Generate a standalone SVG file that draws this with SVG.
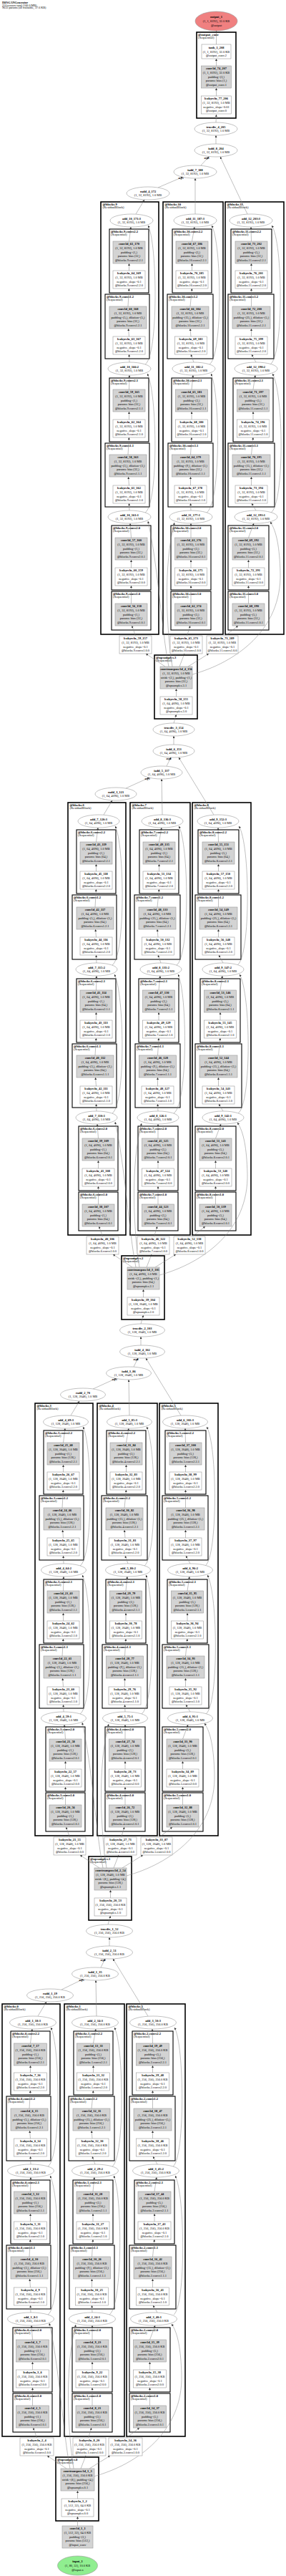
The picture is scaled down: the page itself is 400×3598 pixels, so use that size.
<svg xmlns="http://www.w3.org/2000/svg" width="400" height="3598" viewBox="0 0 400 3598">
<style>
text{font-family:"Liberation Serif","Times New Roman",serif;font-size:4.4px;text-anchor:middle;fill:#000}
.b{font-weight:bold}
.g{fill:#d3d3d3;stroke:#999;stroke-width:.6}
.w{fill:#fff;stroke:#999;stroke-width:.6}
.R{fill:none;stroke:#000;stroke-width:1.6}
.S{fill:none;stroke:#000;stroke-width:1.1}
.L{text-anchor:start;font-size:4.6px}
.h{text-anchor:start;font-size:4.2px}
.e path{fill:none;stroke:#808080;stroke-width:.5;marker-end:url(#ah)}
.al{font-size:3.2px;font-weight:bold}
</style>
<defs><marker id="ah" viewBox="0 0 10 10" refX="10" refY="5" markerWidth="3" markerHeight="3" orient="auto" markerUnits="userSpaceOnUse"><path d="M0,0L10,5L0,10z" fill="#333"/></marker></defs>
<rect width="400" height="3598" fill="#fff"/>
<g id="header"><text class="h" x="3" y="5.2"><tspan class="b">HiFiGANGenerator</tspan><tspan x="3" dy="3.5">210 tensors total (166.0 MB)</tspan><tspan x="3" dy="3.5">9633 params (all trainable, 37.6 KB)</tspan></text></g>

<!-- OUTPUT SECTION -->
<g id="clusters-out"><rect class="R" x="275" y="45" width="55" height="120"/><text class="L" x="277" y="49.8"><tspan class="b">@output_conv</tspan><tspan x="277" dy="4.3">(Sequential)</tspan></text></g>
<g id="connectors-out" class="e"><path d="M302,171L302.5,160"/><path d="M302.5,134V123"/><path d="M302.5,92V82"/><path d="M302.5,62V43"/></g>
<g id="nodes-out">
<g id="output_1" transform="translate(302.5,29.5)"><ellipse rx="29.5" ry="13.5" fill="#f08080" stroke="#999" stroke-width=".6"/><text y="-4.2"><tspan class="b">output_1</tspan><tspan x="0" dy="5.7">(1, 1, 8192), 32.0 KB</tspan><tspan x="0" dy="5.7">@output</tspan></text></g>
<g id="tanh_1_208" transform="translate(302.5,62)"><rect class="w" x="-20.5" width="41" height="20"/><text y="5.8"><tspan class="b">tanh_1_208</tspan><tspan x="0" dy="5.7">(1, 1, 8192), 32.0 KB</tspan><tspan x="0" dy="5.7">@output_conv.2</tspan></text></g>
<g id="conv1d_74_207" transform="translate(302.5,92)"><rect class="g" x="-21" width="42" height="31"/><text y="5.3"><tspan class="b">conv1d_74_207</tspan><tspan x="0" dy="5.7">(1, 1, 8192), 32.0 KB</tspan><tspan x="0" dy="5.7">padding=(3,)</tspan><tspan x="0" dy="5.7">params: bias (1,)</tspan><tspan x="0" dy="5.7">@output_conv.1</tspan></text></g>
<g id="leakyrelu_77_206" transform="translate(302.5,134)"><rect class="w" x="-21" width="42" height="25"/><text y="5.4"><tspan class="b">leakyrelu_77_206</tspan><tspan x="0" dy="5.7">(1, 32, 8192), 1.0 MB</tspan><tspan x="0" dy="5.7">negative_slope=0.01</tspan><tspan x="0" dy="5.7">@output_conv.0</tspan></text></g>
</g>

<!-- STAGE 4 -->
<g id="stage4">
<g id="clusters-s4">
<rect class="R" x="141" y="282" width="81" height="604"/><text class="L" x="143.5" y="286.8"><tspan class="b">@blocks.9</tspan><tspan x="143.5" dy="4.3">(ResidualBlock)</tspan></text>
<rect class="R" x="228" y="282" width="84" height="604"/><text class="L" x="230.5" y="286.8"><tspan class="b">@blocks.10</tspan><tspan x="230.5" dy="4.3">(ResidualBlock)</tspan></text>
<rect class="R" x="315" y="282" width="82" height="604"/><text class="L" x="317.5" y="286.8"><tspan class="b">@blocks.11</tspan><tspan x="317.5" dy="4.3">(ResidualBlock)</tspan></text>
<rect class="S" x="153" y="320" width="55" height="89"/><text class="L" x="155" y="324.8"><tspan class="b">@blocks.9.convs2.2</tspan><tspan x="155" dy="4.3">(Sequential)</tspan></text>
<rect class="S" x="147" y="411" width="62" height="90"/><text class="L" x="149" y="415.8"><tspan class="b">@blocks.9.convs1.2</tspan><tspan x="149" dy="4.3">(Sequential)</tspan></text>
<rect class="S" x="153" y="528" width="55" height="89"/><text class="L" x="155" y="532.8"><tspan class="b">@blocks.9.convs2.1</tspan><tspan x="155" dy="4.3">(Sequential)</tspan></text>
<rect class="S" x="147" y="619" width="62" height="89"/><text class="L" x="149" y="623.8"><tspan class="b">@blocks.9.convs1.1</tspan><tspan x="149" dy="4.3">(Sequential)</tspan></text>
<rect class="S" x="156" y="734" width="55" height="90"/><text class="L" x="158" y="738.8"><tspan class="b">@blocks.9.convs2.0</tspan><tspan x="158" dy="4.3">(Sequential)</tspan></text>
<rect class="S" x="156" y="826" width="55" height="54"/><text class="L" x="158" y="830.8"><tspan class="b">@blocks.9.convs1.0</tspan><tspan x="158" dy="4.3">(Sequential)</tspan></text>
<rect class="S" x="241" y="320" width="55" height="89"/><text class="L" x="243" y="324.8"><tspan class="b">@blocks.10.convs2.2</tspan><tspan x="243" dy="4.3">(Sequential)</tspan></text>
<rect class="S" x="234" y="411" width="64" height="90"/><text class="L" x="236" y="415.8"><tspan class="b">@blocks.10.convs1.2</tspan><tspan x="236" dy="4.3">(Sequential)</tspan></text>
<rect class="S" x="240" y="528" width="56" height="89"/><text class="L" x="242" y="532.8"><tspan class="b">@blocks.10.convs2.1</tspan><tspan x="242" dy="4.3">(Sequential)</tspan></text>
<rect class="S" x="235" y="619" width="63" height="89"/><text class="L" x="237" y="623.8"><tspan class="b">@blocks.10.convs1.1</tspan><tspan x="237" dy="4.3">(Sequential)</tspan></text>
<rect class="S" x="239" y="734" width="56" height="90"/><text class="L" x="241" y="738.8"><tspan class="b">@blocks.10.convs2.0</tspan><tspan x="241" dy="4.3">(Sequential)</tspan></text>
<rect class="S" x="239" y="826" width="56" height="54"/><text class="L" x="241" y="830.8"><tspan class="b">@blocks.10.convs1.0</tspan><tspan x="241" dy="4.3">(Sequential)</tspan></text>
<rect class="S" x="323" y="320" width="57" height="89"/><text class="L" x="325" y="324.8"><tspan class="b">@blocks.11.convs2.2</tspan><tspan x="325" dy="4.3">(Sequential)</tspan></text>
<rect class="S" x="319" y="411" width="64" height="90"/><text class="L" x="321" y="415.8"><tspan class="b">@blocks.11.convs1.2</tspan><tspan x="321" dy="4.3">(Sequential)</tspan></text>
<rect class="S" x="326" y="528" width="56" height="89"/><text class="L" x="328" y="532.8"><tspan class="b">@blocks.11.convs2.1</tspan><tspan x="328" dy="4.3">(Sequential)</tspan></text>
<rect class="S" x="319" y="619" width="65" height="89"/><text class="L" x="321" y="623.8"><tspan class="b">@blocks.11.convs1.1</tspan><tspan x="321" dy="4.3">(Sequential)</tspan></text>
<rect class="S" x="319" y="734" width="57" height="90"/><text class="L" x="321" y="738.8"><tspan class="b">@blocks.11.convs2.0</tspan><tspan x="321" dy="4.3">(Sequential)</tspan></text>
<rect class="S" x="319" y="826" width="57" height="54"/><text class="L" x="321" y="830.8"><tspan class="b">@blocks.11.convs1.0</tspan><tspan x="321" dy="4.3">(Sequential)</tspan></text>
<rect class="R" x="216" y="915" width="60" height="89"/><text class="L" x="218" y="919.8"><tspan class="b">@upsamples.3</tspan><tspan x="218" dy="4.3">(Sequential)</tspan></text>
</g>
<g id="connectors-s4" class="e">
<path d="M243,1010L246.5,998"/>
<path d="M246.5,973V962"/><path d="M231,931L204,913"/><path d="M251,931L258,913"/><path d="M263,931L292,913"/>
<path d="M236,931C226,880 221,790 207,728"/><path d="M241,931C233,880 228,790 244,730"/><path d="M269,942C330,925 394,880 392,800C391,765 387,742 378,729"/>
<path d="M189.5,888L184.5,874"/><path d="M183.5,843V818"/><path d="M183.5,793V782"/><path d="M183.5,751L182,731"/><path d="M181,713L180.5,703"/><path d="M180.5,678L179.5,666"/><path d="M179,635L180.5,611"/><path d="M180.5,586V575"/><path d="M180.5,544L181,524"/><path d="M181,506L180.5,495"/><path d="M180.5,470L179.5,459"/><path d="M179,428L180.5,403"/><path d="M180.5,378V368"/><path d="M180.5,337L183,317"/><path d="M203,716C222,703 220,548 206,522"/><path d="M203,509C222,496 220,338 207,315"/>
<path d="M261.5,888L266,874"/><path d="M267,843V818"/><path d="M267,793V782"/><path d="M267,751V731"/><path d="M267,713L266.5,703"/><path d="M266.5,678V666"/><path d="M266.5,635L268,611"/><path d="M268,586V575"/><path d="M268,544L270,524"/><path d="M271,506L267,495"/><path d="M267,470L266,459"/><path d="M266,428L268.5,403"/><path d="M268.5,378V368"/><path d="M268.5,337L272,317"/><path d="M289,716C309,703 308,548 295,522"/><path d="M293,509C312,496 310,338 296,315"/>
<path d="M315,888L333,874"/><path d="M347.5,843V818"/><path d="M347.5,793V782"/><path d="M347.5,751L355,731"/><path d="M358,713L352,703"/><path d="M351.5,678V666"/><path d="M351.5,635L354,611"/><path d="M354,586V575"/><path d="M354,544L357,524"/><path d="M358,506L352,495"/><path d="M351.5,470V459"/><path d="M351.5,428V403"/><path d="M351.5,378V368"/><path d="M351.5,337L351,317"/><path d="M379,716C398,703 397,548 381,522"/><path d="M378,509C397,496 396,338 380,315"/>
<path d="M190,299L202,279"/><path d="M273,299V249"/><path d="M346,299L308,219"/><path d="M221,262L256,247"/><path d="M281,231L292,219"/><path d="M302,201V189"/>
<text class="al" x="253" y="250.3">arg 0</text><text class="al" x="289" y="221.6">arg 0</text>
</g>
<g id="nodes-s4">
<g id="leakyrelu_58_155" transform="translate(246.5,973)"><rect class="w" x="-22.5" width="45" height="25"/><text y="5.4"><tspan class="b">leakyrelu_58_155</tspan><tspan x="0" dy="5.7">(1, 64, 4096), 1.0 MB</tspan><tspan x="0" dy="5.7">negative_slope=0.1</tspan><tspan x="0" dy="5.7">@upsamples.3.0</tspan></text></g>
<g id="convtranspose1d_4_156" transform="translate(246.5,931)"><rect class="g" x="-22.5" width="45" height="31"/><text y="5.3"><tspan class="b">convtranspose1d_4_156</tspan><tspan x="0" dy="5.7">(1, 32, 8192), 1.0 MB</tspan><tspan x="0" dy="5.7">stride=(2,), padding=(1,)</tspan><tspan x="0" dy="5.7">params: bias (32,)</tspan><tspan x="0" dy="5.7">@upsamples.3.1</tspan></text></g>
<g id="leakyrelu_59_157" transform="translate(189.5,888)"><rect class="w" x="-22.5" width="45" height="25"/><text y="5.4"><tspan class="b">leakyrelu_59_157</tspan><tspan x="0" dy="5.7">(1, 32, 8192), 1.0 MB</tspan><tspan x="0" dy="5.7">negative_slope=0.1</tspan><tspan x="0" dy="5.7">@blocks.9.convs1.0.0</tspan></text></g>
<g id="conv1d_56_158" transform="translate(183.5,843)"><rect class="g" x="-22.5" width="45" height="31"/><text y="5.3"><tspan class="b">conv1d_56_158</tspan><tspan x="0" dy="5.7">(1, 32, 8192), 1.0 MB</tspan><tspan x="0" dy="5.7">padding=(1,)</tspan><tspan x="0" dy="5.7">params: bias (32,)</tspan><tspan x="0" dy="5.7">@blocks.9.convs1.0.1</tspan></text></g>
<g id="leakyrelu_60_159" transform="translate(183.5,793)"><rect class="w" x="-22.5" width="45" height="25"/><text y="5.4"><tspan class="b">leakyrelu_60_159</tspan><tspan x="0" dy="5.7">(1, 32, 8192), 1.0 MB</tspan><tspan x="0" dy="5.7">negative_slope=0.1</tspan><tspan x="0" dy="5.7">@blocks.9.convs2.0.0</tspan></text></g>
<g id="conv1d_57_160" transform="translate(183.5,751)"><rect class="g" x="-22.5" width="45" height="31"/><text y="5.3"><tspan class="b">conv1d_57_160</tspan><tspan x="0" dy="5.7">(1, 32, 8192), 1.0 MB</tspan><tspan x="0" dy="5.7">padding=(1,)</tspan><tspan x="0" dy="5.7">params: bias (32,)</tspan><tspan x="0" dy="5.7">@blocks.9.convs2.0.1</tspan></text></g>
<g id="add_10_161_1" transform="translate(181,722)"><ellipse class="w" rx="30" ry="9"/><text y="-1.4"><tspan class="b">add_10_161:1</tspan><tspan x="0" dy="5.7">(1, 32, 8192), 1.0 MB</tspan></text></g>
<g id="leakyrelu_61_162" transform="translate(180.5,678)"><rect class="w" x="-22.5" width="45" height="25"/><text y="5.4"><tspan class="b">leakyrelu_61_162</tspan><tspan x="0" dy="5.7">(1, 32, 8192), 1.0 MB</tspan><tspan x="0" dy="5.7">negative_slope=0.1</tspan><tspan x="0" dy="5.7">@blocks.9.convs1.1.0</tspan></text></g>
<g id="conv1d_58_163" transform="translate(179,635)"><rect class="g" x="-26" width="52" height="31"/><text y="5.3"><tspan class="b">conv1d_58_163</tspan><tspan x="0" dy="5.7">(1, 32, 8192), 1.0 MB</tspan><tspan x="0" dy="5.7">padding=(3,), dilation=(3,)</tspan><tspan x="0" dy="5.7">params: bias (32,)</tspan><tspan x="0" dy="5.7">@blocks.9.convs1.1.1</tspan></text></g>
<g id="leakyrelu_62_164" transform="translate(180.5,586)"><rect class="w" x="-22.5" width="45" height="25"/><text y="5.4"><tspan class="b">leakyrelu_62_164</tspan><tspan x="0" dy="5.7">(1, 32, 8192), 1.0 MB</tspan><tspan x="0" dy="5.7">negative_slope=0.1</tspan><tspan x="0" dy="5.7">@blocks.9.convs2.1.0</tspan></text></g>
<g id="conv1d_59_165" transform="translate(180.5,544)"><rect class="g" x="-22.5" width="45" height="31"/><text y="5.3"><tspan class="b">conv1d_59_165</tspan><tspan x="0" dy="5.7">(1, 32, 8192), 1.0 MB</tspan><tspan x="0" dy="5.7">padding=(1,)</tspan><tspan x="0" dy="5.7">params: bias (32,)</tspan><tspan x="0" dy="5.7">@blocks.9.convs2.1.1</tspan></text></g>
<g id="add_10_166_2" transform="translate(181,515)"><ellipse class="w" rx="30" ry="9"/><text y="-1.4"><tspan class="b">add_10_166:2</tspan><tspan x="0" dy="5.7">(1, 32, 8192), 1.0 MB</tspan></text></g>
<g id="leakyrelu_63_167" transform="translate(180.5,470)"><rect class="w" x="-22.5" width="45" height="25"/><text y="5.4"><tspan class="b">leakyrelu_63_167</tspan><tspan x="0" dy="5.7">(1, 32, 8192), 1.0 MB</tspan><tspan x="0" dy="5.7">negative_slope=0.1</tspan><tspan x="0" dy="5.7">@blocks.9.convs1.2.0</tspan></text></g>
<g id="conv1d_60_168" transform="translate(179,428)"><rect class="g" x="-26" width="52" height="31"/><text y="5.3"><tspan class="b">conv1d_60_168</tspan><tspan x="0" dy="5.7">(1, 32, 8192), 1.0 MB</tspan><tspan x="0" dy="5.7">padding=(5,), dilation=(5,)</tspan><tspan x="0" dy="5.7">params: bias (32,)</tspan><tspan x="0" dy="5.7">@blocks.9.convs1.2.1</tspan></text></g>
<g id="leakyrelu_64_169" transform="translate(180.5,378)"><rect class="w" x="-22.5" width="45" height="25"/><text y="5.4"><tspan class="b">leakyrelu_64_169</tspan><tspan x="0" dy="5.7">(1, 32, 8192), 1.0 MB</tspan><tspan x="0" dy="5.7">negative_slope=0.1</tspan><tspan x="0" dy="5.7">@blocks.9.convs2.2.0</tspan></text></g>
<g id="conv1d_61_170" transform="translate(180.5,337)"><rect class="g" x="-22.5" width="45" height="31"/><text y="5.3"><tspan class="b">conv1d_61_170</tspan><tspan x="0" dy="5.7">(1, 32, 8192), 1.0 MB</tspan><tspan x="0" dy="5.7">padding=(1,)</tspan><tspan x="0" dy="5.7">params: bias (32,)</tspan><tspan x="0" dy="5.7">@blocks.9.convs2.2.1</tspan></text></g>
<g id="add_10_171_3" transform="translate(184,308)"><ellipse class="w" rx="30" ry="9"/><text y="-1.4"><tspan class="b">add_10_171:3</tspan><tspan x="0" dy="5.7">(1, 32, 8192), 1.0 MB</tspan></text></g>
<g id="radd_4_172" transform="translate(207,270)"><ellipse class="w" rx="30" ry="9"/><text y="-1.4"><tspan class="b">radd_4_172</tspan><tspan x="0" dy="5.7">(1, 32, 8192), 1.0 MB</tspan></text></g>
<g id="leakyrelu_65_173" transform="translate(260.5,888)"><rect class="w" x="-22.5" width="45" height="25"/><text y="5.4"><tspan class="b">leakyrelu_65_173</tspan><tspan x="0" dy="5.7">(1, 32, 8192), 1.0 MB</tspan><tspan x="0" dy="5.7">negative_slope=0.1</tspan><tspan x="0" dy="5.7">@blocks.10.convs1.0.0</tspan></text></g>
<g id="conv1d_62_174" transform="translate(267,843)"><rect class="g" x="-22.5" width="45" height="31"/><text y="5.3"><tspan class="b">conv1d_62_174</tspan><tspan x="0" dy="5.7">(1, 32, 8192), 1.0 MB</tspan><tspan x="0" dy="5.7">padding=(3,)</tspan><tspan x="0" dy="5.7">params: bias (32,)</tspan><tspan x="0" dy="5.7">@blocks.10.convs1.0.1</tspan></text></g>
<g id="leakyrelu_66_175" transform="translate(267,793)"><rect class="w" x="-22.5" width="45" height="25"/><text y="5.4"><tspan class="b">leakyrelu_66_175</tspan><tspan x="0" dy="5.7">(1, 32, 8192), 1.0 MB</tspan><tspan x="0" dy="5.7">negative_slope=0.1</tspan><tspan x="0" dy="5.7">@blocks.10.convs2.0.0</tspan></text></g>
<g id="conv1d_63_176" transform="translate(267,751)"><rect class="g" x="-22.5" width="45" height="31"/><text y="5.3"><tspan class="b">conv1d_63_176</tspan><tspan x="0" dy="5.7">(1, 32, 8192), 1.0 MB</tspan><tspan x="0" dy="5.7">padding=(3,)</tspan><tspan x="0" dy="5.7">params: bias (32,)</tspan><tspan x="0" dy="5.7">@blocks.10.convs2.0.1</tspan></text></g>
<g id="add_11_177_1" transform="translate(267,722)"><ellipse class="w" rx="30" ry="9"/><text y="-1.4"><tspan class="b">add_11_177:1</tspan><tspan x="0" dy="5.7">(1, 32, 8192), 1.0 MB</tspan></text></g>
<g id="leakyrelu_67_178" transform="translate(266.5,678)"><rect class="w" x="-22.5" width="45" height="25"/><text y="5.4"><tspan class="b">leakyrelu_67_178</tspan><tspan x="0" dy="5.7">(1, 32, 8192), 1.0 MB</tspan><tspan x="0" dy="5.7">negative_slope=0.1</tspan><tspan x="0" dy="5.7">@blocks.10.convs1.1.0</tspan></text></g>
<g id="conv1d_64_179" transform="translate(266.5,635)"><rect class="g" x="-26" width="52" height="31"/><text y="5.3"><tspan class="b">conv1d_64_179</tspan><tspan x="0" dy="5.7">(1, 32, 8192), 1.0 MB</tspan><tspan x="0" dy="5.7">padding=(9,), dilation=(3,)</tspan><tspan x="0" dy="5.7">params: bias (32,)</tspan><tspan x="0" dy="5.7">@blocks.10.convs1.1.1</tspan></text></g>
<g id="leakyrelu_68_180" transform="translate(268,586)"><rect class="w" x="-22.5" width="45" height="25"/><text y="5.4"><tspan class="b">leakyrelu_68_180</tspan><tspan x="0" dy="5.7">(1, 32, 8192), 1.0 MB</tspan><tspan x="0" dy="5.7">negative_slope=0.1</tspan><tspan x="0" dy="5.7">@blocks.10.convs2.1.0</tspan></text></g>
<g id="conv1d_65_181" transform="translate(268,544)"><rect class="g" x="-22.5" width="45" height="31"/><text y="5.3"><tspan class="b">conv1d_65_181</tspan><tspan x="0" dy="5.7">(1, 32, 8192), 1.0 MB</tspan><tspan x="0" dy="5.7">padding=(3,)</tspan><tspan x="0" dy="5.7">params: bias (32,)</tspan><tspan x="0" dy="5.7">@blocks.10.convs2.1.1</tspan></text></g>
<g id="add_11_182_2" transform="translate(271,515)"><ellipse class="w" rx="30" ry="9"/><text y="-1.4"><tspan class="b">add_11_182:2</tspan><tspan x="0" dy="5.7">(1, 32, 8192), 1.0 MB</tspan></text></g>
<g id="leakyrelu_69_183" transform="translate(267,470)"><rect class="w" x="-22.5" width="45" height="25"/><text y="5.4"><tspan class="b">leakyrelu_69_183</tspan><tspan x="0" dy="5.7">(1, 32, 8192), 1.0 MB</tspan><tspan x="0" dy="5.7">negative_slope=0.1</tspan><tspan x="0" dy="5.7">@blocks.10.convs1.2.0</tspan></text></g>
<g id="conv1d_66_184" transform="translate(266,428)"><rect class="g" x="-26" width="52" height="31"/><text y="5.3"><tspan class="b">conv1d_66_184</tspan><tspan x="0" dy="5.7">(1, 32, 8192), 1.0 MB</tspan><tspan x="0" dy="5.7">padding=(15,), dilation=(5,)</tspan><tspan x="0" dy="5.7">params: bias (32,)</tspan><tspan x="0" dy="5.7">@blocks.10.convs1.2.1</tspan></text></g>
<g id="leakyrelu_70_185" transform="translate(268.5,378)"><rect class="w" x="-22.5" width="45" height="25"/><text y="5.4"><tspan class="b">leakyrelu_70_185</tspan><tspan x="0" dy="5.7">(1, 32, 8192), 1.0 MB</tspan><tspan x="0" dy="5.7">negative_slope=0.1</tspan><tspan x="0" dy="5.7">@blocks.10.convs2.2.0</tspan></text></g>
<g id="conv1d_67_186" transform="translate(268.5,337)"><rect class="g" x="-22.5" width="45" height="31"/><text y="5.3"><tspan class="b">conv1d_67_186</tspan><tspan x="0" dy="5.7">(1, 32, 8192), 1.0 MB</tspan><tspan x="0" dy="5.7">padding=(3,)</tspan><tspan x="0" dy="5.7">params: bias (32,)</tspan><tspan x="0" dy="5.7">@blocks.10.convs2.2.1</tspan></text></g>
<g id="add_11_187_3" transform="translate(273,308)"><ellipse class="w" rx="30" ry="9"/><text y="-1.4"><tspan class="b">add_11_187:3</tspan><tspan x="0" dy="5.7">(1, 32, 8192), 1.0 MB</tspan></text></g>
<g id="iadd_7_188" transform="translate(273,240)"><ellipse class="w" rx="30" ry="9"/><text y="-1.4"><tspan class="b">iadd_7_188</tspan><tspan x="0" dy="5.7">(1, 32, 8192), 1.0 MB</tspan></text></g>
<g id="leakyrelu_71_189" transform="translate(311,888)"><rect class="w" x="-22" width="44" height="25"/><text y="5.4"><tspan class="b">leakyrelu_71_189</tspan><tspan x="0" dy="5.7">(1, 32, 8192), 1.0 MB</tspan><tspan x="0" dy="5.7">negative_slope=0.1</tspan><tspan x="0" dy="5.7">@blocks.11.convs1.0.0</tspan></text></g>
<g id="conv1d_68_190" transform="translate(347.5,843)"><rect class="g" x="-22.5" width="45" height="31"/><text y="5.3"><tspan class="b">conv1d_68_190</tspan><tspan x="0" dy="5.7">(1, 32, 8192), 1.0 MB</tspan><tspan x="0" dy="5.7">padding=(5,)</tspan><tspan x="0" dy="5.7">params: bias (32,)</tspan><tspan x="0" dy="5.7">@blocks.11.convs1.0.1</tspan></text></g>
<g id="leakyrelu_72_191" transform="translate(347.5,793)"><rect class="w" x="-22.5" width="45" height="25"/><text y="5.4"><tspan class="b">leakyrelu_72_191</tspan><tspan x="0" dy="5.7">(1, 32, 8192), 1.0 MB</tspan><tspan x="0" dy="5.7">negative_slope=0.1</tspan><tspan x="0" dy="5.7">@blocks.11.convs2.0.0</tspan></text></g>
<g id="conv1d_69_192" transform="translate(347.5,751)"><rect class="g" x="-22.5" width="45" height="31"/><text y="5.3"><tspan class="b">conv1d_69_192</tspan><tspan x="0" dy="5.7">(1, 32, 8192), 1.0 MB</tspan><tspan x="0" dy="5.7">padding=(5,)</tspan><tspan x="0" dy="5.7">params: bias (32,)</tspan><tspan x="0" dy="5.7">@blocks.11.convs2.0.1</tspan></text></g>
<g id="add_12_193_1" transform="translate(358,722)"><ellipse class="w" rx="30" ry="9"/><text y="-1.4"><tspan class="b">add_12_193:1</tspan><tspan x="0" dy="5.7">(1, 32, 8192), 1.0 MB</tspan></text></g>
<g id="leakyrelu_73_194" transform="translate(351.5,678)"><rect class="w" x="-22.5" width="45" height="25"/><text y="5.4"><tspan class="b">leakyrelu_73_194</tspan><tspan x="0" dy="5.7">(1, 32, 8192), 1.0 MB</tspan><tspan x="0" dy="5.7">negative_slope=0.1</tspan><tspan x="0" dy="5.7">@blocks.11.convs1.1.0</tspan></text></g>
<g id="conv1d_70_195" transform="translate(351.5,635)"><rect class="g" x="-26.5" width="53" height="31"/><text y="5.3"><tspan class="b">conv1d_70_195</tspan><tspan x="0" dy="5.7">(1, 32, 8192), 1.0 MB</tspan><tspan x="0" dy="5.7">padding=(15,), dilation=(3,)</tspan><tspan x="0" dy="5.7">params: bias (32,)</tspan><tspan x="0" dy="5.7">@blocks.11.convs1.1.1</tspan></text></g>
<g id="leakyrelu_74_196" transform="translate(354,586)"><rect class="w" x="-22.5" width="45" height="25"/><text y="5.4"><tspan class="b">leakyrelu_74_196</tspan><tspan x="0" dy="5.7">(1, 32, 8192), 1.0 MB</tspan><tspan x="0" dy="5.7">negative_slope=0.1</tspan><tspan x="0" dy="5.7">@blocks.11.convs2.1.0</tspan></text></g>
<g id="conv1d_71_197" transform="translate(354,544)"><rect class="g" x="-22.5" width="45" height="31"/><text y="5.3"><tspan class="b">conv1d_71_197</tspan><tspan x="0" dy="5.7">(1, 32, 8192), 1.0 MB</tspan><tspan x="0" dy="5.7">padding=(5,)</tspan><tspan x="0" dy="5.7">params: bias (32,)</tspan><tspan x="0" dy="5.7">@blocks.11.convs2.1.1</tspan></text></g>
<g id="add_12_198_2" transform="translate(358,515)"><ellipse class="w" rx="30" ry="9"/><text y="-1.4"><tspan class="b">add_12_198:2</tspan><tspan x="0" dy="5.7">(1, 32, 8192), 1.0 MB</tspan></text></g>
<g id="leakyrelu_75_199" transform="translate(351.5,470)"><rect class="w" x="-22.5" width="45" height="25"/><text y="5.4"><tspan class="b">leakyrelu_75_199</tspan><tspan x="0" dy="5.7">(1, 32, 8192), 1.0 MB</tspan><tspan x="0" dy="5.7">negative_slope=0.1</tspan><tspan x="0" dy="5.7">@blocks.11.convs1.2.0</tspan></text></g>
<g id="conv1d_72_200" transform="translate(351.5,428)"><rect class="g" x="-26.5" width="53" height="31"/><text y="5.3"><tspan class="b">conv1d_72_200</tspan><tspan x="0" dy="5.7">(1, 32, 8192), 1.0 MB</tspan><tspan x="0" dy="5.7">padding=(25,), dilation=(5,)</tspan><tspan x="0" dy="5.7">params: bias (32,)</tspan><tspan x="0" dy="5.7">@blocks.11.convs1.2.1</tspan></text></g>
<g id="leakyrelu_76_201" transform="translate(351.5,378)"><rect class="w" x="-22.5" width="45" height="25"/><text y="5.4"><tspan class="b">leakyrelu_76_201</tspan><tspan x="0" dy="5.7">(1, 32, 8192), 1.0 MB</tspan><tspan x="0" dy="5.7">negative_slope=0.1</tspan><tspan x="0" dy="5.7">@blocks.11.convs2.2.0</tspan></text></g>
<g id="conv1d_73_202" transform="translate(351.5,337)"><rect class="g" x="-22.5" width="45" height="31"/><text y="5.3"><tspan class="b">conv1d_73_202</tspan><tspan x="0" dy="5.7">(1, 32, 8192), 1.0 MB</tspan><tspan x="0" dy="5.7">padding=(5,)</tspan><tspan x="0" dy="5.7">params: bias (32,)</tspan><tspan x="0" dy="5.7">@blocks.11.convs2.2.1</tspan></text></g>
<g id="add_12_203_3" transform="translate(351,308)"><ellipse class="w" rx="30" ry="9"/><text y="-1.4"><tspan class="b">add_12_203:3</tspan><tspan x="0" dy="5.7">(1, 32, 8192), 1.0 MB</tspan></text></g>
<g id="iadd_8_204" transform="translate(302,210)"><ellipse class="w" rx="30" ry="9"/><text y="-1.4"><tspan class="b">iadd_8_204</tspan><tspan x="0" dy="5.7">(1, 32, 8192), 1.0 MB</tspan></text></g>
<g id="truediv_4_205" transform="translate(302,180)"><ellipse class="w" rx="30" ry="9"/><text y="-1.4"><tspan class="b">truediv_4_205</tspan><tspan x="0" dy="5.7">(1, 32, 8192), 1.0 MB</tspan></text></g>
</g>
</g>

<!-- STAGE 3 -->
<g id="stage3" transform="translate(-46,839)">
<g id="clusters-s3">
<rect class="R" x="141" y="282" width="81" height="604"/><text class="L" x="143.5" y="286.8"><tspan class="b">@blocks.6</tspan><tspan x="143.5" dy="4.3">(ResidualBlock)</tspan></text>
<rect class="R" x="228" y="282" width="84" height="604"/><text class="L" x="230.5" y="286.8"><tspan class="b">@blocks.7</tspan><tspan x="230.5" dy="4.3">(ResidualBlock)</tspan></text>
<rect class="R" x="315" y="282" width="82" height="604"/><text class="L" x="317.5" y="286.8"><tspan class="b">@blocks.8</tspan><tspan x="317.5" dy="4.3">(ResidualBlock)</tspan></text>
<rect class="S" x="153" y="320" width="55" height="89"/><text class="L" x="155" y="324.8"><tspan class="b">@blocks.6.convs2.2</tspan><tspan x="155" dy="4.3">(Sequential)</tspan></text>
<rect class="S" x="147" y="411" width="62" height="90"/><text class="L" x="149" y="415.8"><tspan class="b">@blocks.6.convs1.2</tspan><tspan x="149" dy="4.3">(Sequential)</tspan></text>
<rect class="S" x="153" y="528" width="55" height="89"/><text class="L" x="155" y="532.8"><tspan class="b">@blocks.6.convs2.1</tspan><tspan x="155" dy="4.3">(Sequential)</tspan></text>
<rect class="S" x="147" y="619" width="62" height="89"/><text class="L" x="149" y="623.8"><tspan class="b">@blocks.6.convs1.1</tspan><tspan x="149" dy="4.3">(Sequential)</tspan></text>
<rect class="S" x="156" y="734" width="55" height="90"/><text class="L" x="158" y="738.8"><tspan class="b">@blocks.6.convs2.0</tspan><tspan x="158" dy="4.3">(Sequential)</tspan></text>
<rect class="S" x="156" y="826" width="55" height="54"/><text class="L" x="158" y="830.8"><tspan class="b">@blocks.6.convs1.0</tspan><tspan x="158" dy="4.3">(Sequential)</tspan></text>
<rect class="S" x="241" y="320" width="55" height="89"/><text class="L" x="243" y="324.8"><tspan class="b">@blocks.7.convs2.2</tspan><tspan x="243" dy="4.3">(Sequential)</tspan></text>
<rect class="S" x="234" y="411" width="64" height="90"/><text class="L" x="236" y="415.8"><tspan class="b">@blocks.7.convs1.2</tspan><tspan x="236" dy="4.3">(Sequential)</tspan></text>
<rect class="S" x="240" y="528" width="56" height="89"/><text class="L" x="242" y="532.8"><tspan class="b">@blocks.7.convs2.1</tspan><tspan x="242" dy="4.3">(Sequential)</tspan></text>
<rect class="S" x="235" y="619" width="63" height="89"/><text class="L" x="237" y="623.8"><tspan class="b">@blocks.7.convs1.1</tspan><tspan x="237" dy="4.3">(Sequential)</tspan></text>
<rect class="S" x="239" y="734" width="56" height="90"/><text class="L" x="241" y="738.8"><tspan class="b">@blocks.7.convs2.0</tspan><tspan x="241" dy="4.3">(Sequential)</tspan></text>
<rect class="S" x="239" y="826" width="56" height="54"/><text class="L" x="241" y="830.8"><tspan class="b">@blocks.7.convs1.0</tspan><tspan x="241" dy="4.3">(Sequential)</tspan></text>
<rect class="S" x="323" y="320" width="57" height="89"/><text class="L" x="325" y="324.8"><tspan class="b">@blocks.8.convs2.2</tspan><tspan x="325" dy="4.3">(Sequential)</tspan></text>
<rect class="S" x="319" y="411" width="64" height="90"/><text class="L" x="321" y="415.8"><tspan class="b">@blocks.8.convs1.2</tspan><tspan x="321" dy="4.3">(Sequential)</tspan></text>
<rect class="S" x="326" y="528" width="56" height="89"/><text class="L" x="328" y="532.8"><tspan class="b">@blocks.8.convs2.1</tspan><tspan x="328" dy="4.3">(Sequential)</tspan></text>
<rect class="S" x="319" y="619" width="65" height="89"/><text class="L" x="321" y="623.8"><tspan class="b">@blocks.8.convs1.1</tspan><tspan x="321" dy="4.3">(Sequential)</tspan></text>
<rect class="S" x="319" y="734" width="57" height="90"/><text class="L" x="321" y="738.8"><tspan class="b">@blocks.8.convs2.0</tspan><tspan x="321" dy="4.3">(Sequential)</tspan></text>
<rect class="S" x="319" y="826" width="57" height="54"/><text class="L" x="321" y="830.8"><tspan class="b">@blocks.8.convs1.0</tspan><tspan x="321" dy="4.3">(Sequential)</tspan></text>
<rect class="R" x="216" y="915" width="60" height="89"/><text class="L" x="218" y="919.8"><tspan class="b">@upsamples.2</tspan><tspan x="218" dy="4.3">(Sequential)</tspan></text>
</g>
<g id="connectors-s3" class="e">
<path d="M243,1010L246.5,998"/>
<path d="M246.5,973V962"/><path d="M231,931L204,913"/><path d="M251,931L258,913"/><path d="M263,931L292,913"/>
<path d="M236,931C226,880 221,790 207,728"/><path d="M241,931C233,880 228,790 244,730"/><path d="M269,942C330,925 394,880 392,800C391,765 387,742 378,729"/>
<path d="M189.5,888L184.5,874"/><path d="M183.5,843V818"/><path d="M183.5,793V782"/><path d="M183.5,751L182,731"/><path d="M181,713L180.5,703"/><path d="M180.5,678L179.5,666"/><path d="M179,635L180.5,611"/><path d="M180.5,586V575"/><path d="M180.5,544L181,524"/><path d="M181,506L180.5,495"/><path d="M180.5,470L179.5,459"/><path d="M179,428L180.5,403"/><path d="M180.5,378V368"/><path d="M180.5,337L183,317"/><path d="M203,716C222,703 220,548 206,522"/><path d="M203,509C222,496 220,338 207,315"/>
<path d="M261.5,888L266,874"/><path d="M267,843V818"/><path d="M267,793V782"/><path d="M267,751V731"/><path d="M267,713L266.5,703"/><path d="M266.5,678V666"/><path d="M266.5,635L268,611"/><path d="M268,586V575"/><path d="M268,544L270,524"/><path d="M271,506L267,495"/><path d="M267,470L266,459"/><path d="M266,428L268.5,403"/><path d="M268.5,378V368"/><path d="M268.5,337L272,317"/><path d="M289,716C309,703 308,548 295,522"/><path d="M293,509C312,496 310,338 296,315"/>
<path d="M315,888L333,874"/><path d="M347.5,843V818"/><path d="M347.5,793V782"/><path d="M347.5,751L355,731"/><path d="M358,713L352,703"/><path d="M351.5,678V666"/><path d="M351.5,635L354,611"/><path d="M354,586V575"/><path d="M354,544L357,524"/><path d="M358,506L352,495"/><path d="M351.5,470V459"/><path d="M351.5,428V403"/><path d="M351.5,378V368"/><path d="M351.5,337L351,317"/><path d="M379,716C398,703 397,548 381,522"/><path d="M378,509C397,496 396,338 380,315"/>
<path d="M191,299L203,279"/><path d="M273,299L272,249"/><path d="M345,299L296,219"/><path d="M222,262L255,247"/><path d="M279,231L285,219"/><path d="M289,201V189"/>
<text class="al" x="252" y="250.3">arg 0</text><text class="al" x="282" y="221.6">arg 0</text>
</g>
<g id="nodes-s3">
<g id="leakyrelu_39_104" transform="translate(246.5,973)"><rect class="w" x="-22.5" width="45" height="25"/><text y="5.4"><tspan class="b">leakyrelu_39_104</tspan><tspan x="0" dy="5.7">(1, 128, 2048), 1.0 MB</tspan><tspan x="0" dy="5.7">negative_slope=0.1</tspan><tspan x="0" dy="5.7">@upsamples.2.0</tspan></text></g>
<g id="convtranspose1d_3_105" transform="translate(246.5,931)"><rect class="g" x="-22.5" width="45" height="31"/><text y="5.3"><tspan class="b">convtranspose1d_3_105</tspan><tspan x="0" dy="5.7">(1, 64, 4096), 1.0 MB</tspan><tspan x="0" dy="5.7">stride=(2,), padding=(1,)</tspan><tspan x="0" dy="5.7">params: bias (64,)</tspan><tspan x="0" dy="5.7">@upsamples.2.1</tspan></text></g>
<g id="leakyrelu_40_106" transform="translate(189.5,888)"><rect class="w" x="-22.5" width="45" height="25"/><text y="5.4"><tspan class="b">leakyrelu_40_106</tspan><tspan x="0" dy="5.7">(1, 64, 4096), 1.0 MB</tspan><tspan x="0" dy="5.7">negative_slope=0.1</tspan><tspan x="0" dy="5.7">@blocks.6.convs1.0.0</tspan></text></g>
<g id="conv1d_38_107" transform="translate(183.5,843)"><rect class="g" x="-22.5" width="45" height="31"/><text y="5.3"><tspan class="b">conv1d_38_107</tspan><tspan x="0" dy="5.7">(1, 64, 4096), 1.0 MB</tspan><tspan x="0" dy="5.7">padding=(1,)</tspan><tspan x="0" dy="5.7">params: bias (64,)</tspan><tspan x="0" dy="5.7">@blocks.6.convs1.0.1</tspan></text></g>
<g id="leakyrelu_41_108" transform="translate(183.5,793)"><rect class="w" x="-22.5" width="45" height="25"/><text y="5.4"><tspan class="b">leakyrelu_41_108</tspan><tspan x="0" dy="5.7">(1, 64, 4096), 1.0 MB</tspan><tspan x="0" dy="5.7">negative_slope=0.1</tspan><tspan x="0" dy="5.7">@blocks.6.convs2.0.0</tspan></text></g>
<g id="conv1d_39_109" transform="translate(183.5,751)"><rect class="g" x="-22.5" width="45" height="31"/><text y="5.3"><tspan class="b">conv1d_39_109</tspan><tspan x="0" dy="5.7">(1, 64, 4096), 1.0 MB</tspan><tspan x="0" dy="5.7">padding=(1,)</tspan><tspan x="0" dy="5.7">params: bias (64,)</tspan><tspan x="0" dy="5.7">@blocks.6.convs2.0.1</tspan></text></g>
<g id="add_7_110_1" transform="translate(181,722)"><ellipse class="w" rx="29" ry="9"/><text y="-1.4"><tspan class="b">add_7_110:1</tspan><tspan x="0" dy="5.7">(1, 64, 4096), 1.0 MB</tspan></text></g>
<g id="leakyrelu_42_111" transform="translate(180.5,678)"><rect class="w" x="-22.5" width="45" height="25"/><text y="5.4"><tspan class="b">leakyrelu_42_111</tspan><tspan x="0" dy="5.7">(1, 64, 4096), 1.0 MB</tspan><tspan x="0" dy="5.7">negative_slope=0.1</tspan><tspan x="0" dy="5.7">@blocks.6.convs1.1.0</tspan></text></g>
<g id="conv1d_40_112" transform="translate(179,635)"><rect class="g" x="-26" width="52" height="31"/><text y="5.3"><tspan class="b">conv1d_40_112</tspan><tspan x="0" dy="5.7">(1, 64, 4096), 1.0 MB</tspan><tspan x="0" dy="5.7">padding=(3,), dilation=(3,)</tspan><tspan x="0" dy="5.7">params: bias (64,)</tspan><tspan x="0" dy="5.7">@blocks.6.convs1.1.1</tspan></text></g>
<g id="leakyrelu_43_113" transform="translate(180.5,586)"><rect class="w" x="-22.5" width="45" height="25"/><text y="5.4"><tspan class="b">leakyrelu_43_113</tspan><tspan x="0" dy="5.7">(1, 64, 4096), 1.0 MB</tspan><tspan x="0" dy="5.7">negative_slope=0.1</tspan><tspan x="0" dy="5.7">@blocks.6.convs2.1.0</tspan></text></g>
<g id="conv1d_41_114" transform="translate(180.5,544)"><rect class="g" x="-22.5" width="45" height="31"/><text y="5.3"><tspan class="b">conv1d_41_114</tspan><tspan x="0" dy="5.7">(1, 64, 4096), 1.0 MB</tspan><tspan x="0" dy="5.7">padding=(1,)</tspan><tspan x="0" dy="5.7">params: bias (64,)</tspan><tspan x="0" dy="5.7">@blocks.6.convs2.1.1</tspan></text></g>
<g id="add_7_115_2" transform="translate(181,515)"><ellipse class="w" rx="29" ry="9"/><text y="-1.4"><tspan class="b">add_7_115:2</tspan><tspan x="0" dy="5.7">(1, 64, 4096), 1.0 MB</tspan></text></g>
<g id="leakyrelu_44_116" transform="translate(180.5,470)"><rect class="w" x="-22.5" width="45" height="25"/><text y="5.4"><tspan class="b">leakyrelu_44_116</tspan><tspan x="0" dy="5.7">(1, 64, 4096), 1.0 MB</tspan><tspan x="0" dy="5.7">negative_slope=0.1</tspan><tspan x="0" dy="5.7">@blocks.6.convs1.2.0</tspan></text></g>
<g id="conv1d_42_117" transform="translate(179,428)"><rect class="g" x="-26" width="52" height="31"/><text y="5.3"><tspan class="b">conv1d_42_117</tspan><tspan x="0" dy="5.7">(1, 64, 4096), 1.0 MB</tspan><tspan x="0" dy="5.7">padding=(5,), dilation=(5,)</tspan><tspan x="0" dy="5.7">params: bias (64,)</tspan><tspan x="0" dy="5.7">@blocks.6.convs1.2.1</tspan></text></g>
<g id="leakyrelu_45_118" transform="translate(180.5,378)"><rect class="w" x="-22.5" width="45" height="25"/><text y="5.4"><tspan class="b">leakyrelu_45_118</tspan><tspan x="0" dy="5.7">(1, 64, 4096), 1.0 MB</tspan><tspan x="0" dy="5.7">negative_slope=0.1</tspan><tspan x="0" dy="5.7">@blocks.6.convs2.2.0</tspan></text></g>
<g id="conv1d_43_119" transform="translate(180.5,337)"><rect class="g" x="-22.5" width="45" height="31"/><text y="5.3"><tspan class="b">conv1d_43_119</tspan><tspan x="0" dy="5.7">(1, 64, 4096), 1.0 MB</tspan><tspan x="0" dy="5.7">padding=(1,)</tspan><tspan x="0" dy="5.7">params: bias (64,)</tspan><tspan x="0" dy="5.7">@blocks.6.convs2.2.1</tspan></text></g>
<g id="add_7_120_3" transform="translate(184,308)"><ellipse class="w" rx="29" ry="9"/><text y="-1.4"><tspan class="b">add_7_120:3</tspan><tspan x="0" dy="5.7">(1, 64, 4096), 1.0 MB</tspan></text></g>
<g id="radd_3_121" transform="translate(208,270)"><ellipse class="w" rx="29" ry="9"/><text y="-1.4"><tspan class="b">radd_3_121</tspan><tspan x="0" dy="5.7">(1, 64, 4096), 1.0 MB</tspan></text></g>
<g id="leakyrelu_46_122" transform="translate(260.5,888)"><rect class="w" x="-22.5" width="45" height="25"/><text y="5.4"><tspan class="b">leakyrelu_46_122</tspan><tspan x="0" dy="5.7">(1, 64, 4096), 1.0 MB</tspan><tspan x="0" dy="5.7">negative_slope=0.1</tspan><tspan x="0" dy="5.7">@blocks.7.convs1.0.0</tspan></text></g>
<g id="conv1d_44_123" transform="translate(267,843)"><rect class="g" x="-22.5" width="45" height="31"/><text y="5.3"><tspan class="b">conv1d_44_123</tspan><tspan x="0" dy="5.7">(1, 64, 4096), 1.0 MB</tspan><tspan x="0" dy="5.7">padding=(3,)</tspan><tspan x="0" dy="5.7">params: bias (64,)</tspan><tspan x="0" dy="5.7">@blocks.7.convs1.0.1</tspan></text></g>
<g id="leakyrelu_47_124" transform="translate(267,793)"><rect class="w" x="-22.5" width="45" height="25"/><text y="5.4"><tspan class="b">leakyrelu_47_124</tspan><tspan x="0" dy="5.7">(1, 64, 4096), 1.0 MB</tspan><tspan x="0" dy="5.7">negative_slope=0.1</tspan><tspan x="0" dy="5.7">@blocks.7.convs2.0.0</tspan></text></g>
<g id="conv1d_45_125" transform="translate(267,751)"><rect class="g" x="-22.5" width="45" height="31"/><text y="5.3"><tspan class="b">conv1d_45_125</tspan><tspan x="0" dy="5.7">(1, 64, 4096), 1.0 MB</tspan><tspan x="0" dy="5.7">padding=(3,)</tspan><tspan x="0" dy="5.7">params: bias (64,)</tspan><tspan x="0" dy="5.7">@blocks.7.convs2.0.1</tspan></text></g>
<g id="add_8_126_1" transform="translate(267,722)"><ellipse class="w" rx="29" ry="9"/><text y="-1.4"><tspan class="b">add_8_126:1</tspan><tspan x="0" dy="5.7">(1, 64, 4096), 1.0 MB</tspan></text></g>
<g id="leakyrelu_48_127" transform="translate(266.5,678)"><rect class="w" x="-22.5" width="45" height="25"/><text y="5.4"><tspan class="b">leakyrelu_48_127</tspan><tspan x="0" dy="5.7">(1, 64, 4096), 1.0 MB</tspan><tspan x="0" dy="5.7">negative_slope=0.1</tspan><tspan x="0" dy="5.7">@blocks.7.convs1.1.0</tspan></text></g>
<g id="conv1d_46_128" transform="translate(266.5,635)"><rect class="g" x="-26" width="52" height="31"/><text y="5.3"><tspan class="b">conv1d_46_128</tspan><tspan x="0" dy="5.7">(1, 64, 4096), 1.0 MB</tspan><tspan x="0" dy="5.7">padding=(9,), dilation=(3,)</tspan><tspan x="0" dy="5.7">params: bias (64,)</tspan><tspan x="0" dy="5.7">@blocks.7.convs1.1.1</tspan></text></g>
<g id="leakyrelu_49_129" transform="translate(268,586)"><rect class="w" x="-22.5" width="45" height="25"/><text y="5.4"><tspan class="b">leakyrelu_49_129</tspan><tspan x="0" dy="5.7">(1, 64, 4096), 1.0 MB</tspan><tspan x="0" dy="5.7">negative_slope=0.1</tspan><tspan x="0" dy="5.7">@blocks.7.convs2.1.0</tspan></text></g>
<g id="conv1d_47_130" transform="translate(268,544)"><rect class="g" x="-22.5" width="45" height="31"/><text y="5.3"><tspan class="b">conv1d_47_130</tspan><tspan x="0" dy="5.7">(1, 64, 4096), 1.0 MB</tspan><tspan x="0" dy="5.7">padding=(3,)</tspan><tspan x="0" dy="5.7">params: bias (64,)</tspan><tspan x="0" dy="5.7">@blocks.7.convs2.1.1</tspan></text></g>
<g id="add_8_131_2" transform="translate(271,515)"><ellipse class="w" rx="29" ry="9"/><text y="-1.4"><tspan class="b">add_8_131:2</tspan><tspan x="0" dy="5.7">(1, 64, 4096), 1.0 MB</tspan></text></g>
<g id="leakyrelu_50_132" transform="translate(267,470)"><rect class="w" x="-22.5" width="45" height="25"/><text y="5.4"><tspan class="b">leakyrelu_50_132</tspan><tspan x="0" dy="5.7">(1, 64, 4096), 1.0 MB</tspan><tspan x="0" dy="5.7">negative_slope=0.1</tspan><tspan x="0" dy="5.7">@blocks.7.convs1.2.0</tspan></text></g>
<g id="conv1d_48_133" transform="translate(266,428)"><rect class="g" x="-26" width="52" height="31"/><text y="5.3"><tspan class="b">conv1d_48_133</tspan><tspan x="0" dy="5.7">(1, 64, 4096), 1.0 MB</tspan><tspan x="0" dy="5.7">padding=(15,), dilation=(5,)</tspan><tspan x="0" dy="5.7">params: bias (64,)</tspan><tspan x="0" dy="5.7">@blocks.7.convs1.2.1</tspan></text></g>
<g id="leakyrelu_51_134" transform="translate(268.5,378)"><rect class="w" x="-22.5" width="45" height="25"/><text y="5.4"><tspan class="b">leakyrelu_51_134</tspan><tspan x="0" dy="5.7">(1, 64, 4096), 1.0 MB</tspan><tspan x="0" dy="5.7">negative_slope=0.1</tspan><tspan x="0" dy="5.7">@blocks.7.convs2.2.0</tspan></text></g>
<g id="conv1d_49_135" transform="translate(268.5,337)"><rect class="g" x="-22.5" width="45" height="31"/><text y="5.3"><tspan class="b">conv1d_49_135</tspan><tspan x="0" dy="5.7">(1, 64, 4096), 1.0 MB</tspan><tspan x="0" dy="5.7">padding=(3,)</tspan><tspan x="0" dy="5.7">params: bias (64,)</tspan><tspan x="0" dy="5.7">@blocks.7.convs2.2.1</tspan></text></g>
<g id="add_8_136_3" transform="translate(273,308)"><ellipse class="w" rx="29" ry="9"/><text y="-1.4"><tspan class="b">add_8_136:3</tspan><tspan x="0" dy="5.7">(1, 64, 4096), 1.0 MB</tspan></text></g>
<g id="iadd_5_137" transform="translate(272,240)"><ellipse class="w" rx="29" ry="9"/><text y="-1.4"><tspan class="b">iadd_5_137</tspan><tspan x="0" dy="5.7">(1, 64, 4096), 1.0 MB</tspan></text></g>
<g id="leakyrelu_52_138" transform="translate(311,888)"><rect class="w" x="-22" width="44" height="25"/><text y="5.4"><tspan class="b">leakyrelu_52_138</tspan><tspan x="0" dy="5.7">(1, 64, 4096), 1.0 MB</tspan><tspan x="0" dy="5.7">negative_slope=0.1</tspan><tspan x="0" dy="5.7">@blocks.8.convs1.0.0</tspan></text></g>
<g id="conv1d_50_139" transform="translate(347.5,843)"><rect class="g" x="-22.5" width="45" height="31"/><text y="5.3"><tspan class="b">conv1d_50_139</tspan><tspan x="0" dy="5.7">(1, 64, 4096), 1.0 MB</tspan><tspan x="0" dy="5.7">padding=(5,)</tspan><tspan x="0" dy="5.7">params: bias (64,)</tspan><tspan x="0" dy="5.7">@blocks.8.convs1.0.1</tspan></text></g>
<g id="leakyrelu_53_140" transform="translate(347.5,793)"><rect class="w" x="-22.5" width="45" height="25"/><text y="5.4"><tspan class="b">leakyrelu_53_140</tspan><tspan x="0" dy="5.7">(1, 64, 4096), 1.0 MB</tspan><tspan x="0" dy="5.7">negative_slope=0.1</tspan><tspan x="0" dy="5.7">@blocks.8.convs2.0.0</tspan></text></g>
<g id="conv1d_51_141" transform="translate(347.5,751)"><rect class="g" x="-22.5" width="45" height="31"/><text y="5.3"><tspan class="b">conv1d_51_141</tspan><tspan x="0" dy="5.7">(1, 64, 4096), 1.0 MB</tspan><tspan x="0" dy="5.7">padding=(5,)</tspan><tspan x="0" dy="5.7">params: bias (64,)</tspan><tspan x="0" dy="5.7">@blocks.8.convs2.0.1</tspan></text></g>
<g id="add_9_142_1" transform="translate(358,722)"><ellipse class="w" rx="29" ry="9"/><text y="-1.4"><tspan class="b">add_9_142:1</tspan><tspan x="0" dy="5.7">(1, 64, 4096), 1.0 MB</tspan></text></g>
<g id="leakyrelu_54_143" transform="translate(351.5,678)"><rect class="w" x="-22.5" width="45" height="25"/><text y="5.4"><tspan class="b">leakyrelu_54_143</tspan><tspan x="0" dy="5.7">(1, 64, 4096), 1.0 MB</tspan><tspan x="0" dy="5.7">negative_slope=0.1</tspan><tspan x="0" dy="5.7">@blocks.8.convs1.1.0</tspan></text></g>
<g id="conv1d_52_144" transform="translate(351.5,635)"><rect class="g" x="-26.5" width="53" height="31"/><text y="5.3"><tspan class="b">conv1d_52_144</tspan><tspan x="0" dy="5.7">(1, 64, 4096), 1.0 MB</tspan><tspan x="0" dy="5.7">padding=(15,), dilation=(3,)</tspan><tspan x="0" dy="5.7">params: bias (64,)</tspan><tspan x="0" dy="5.7">@blocks.8.convs1.1.1</tspan></text></g>
<g id="leakyrelu_55_145" transform="translate(354,586)"><rect class="w" x="-22.5" width="45" height="25"/><text y="5.4"><tspan class="b">leakyrelu_55_145</tspan><tspan x="0" dy="5.7">(1, 64, 4096), 1.0 MB</tspan><tspan x="0" dy="5.7">negative_slope=0.1</tspan><tspan x="0" dy="5.7">@blocks.8.convs2.1.0</tspan></text></g>
<g id="conv1d_53_146" transform="translate(354,544)"><rect class="g" x="-22.5" width="45" height="31"/><text y="5.3"><tspan class="b">conv1d_53_146</tspan><tspan x="0" dy="5.7">(1, 64, 4096), 1.0 MB</tspan><tspan x="0" dy="5.7">padding=(5,)</tspan><tspan x="0" dy="5.7">params: bias (64,)</tspan><tspan x="0" dy="5.7">@blocks.8.convs2.1.1</tspan></text></g>
<g id="add_9_147_2" transform="translate(358,515)"><ellipse class="w" rx="29" ry="9"/><text y="-1.4"><tspan class="b">add_9_147:2</tspan><tspan x="0" dy="5.7">(1, 64, 4096), 1.0 MB</tspan></text></g>
<g id="leakyrelu_56_148" transform="translate(351.5,470)"><rect class="w" x="-22.5" width="45" height="25"/><text y="5.4"><tspan class="b">leakyrelu_56_148</tspan><tspan x="0" dy="5.7">(1, 64, 4096), 1.0 MB</tspan><tspan x="0" dy="5.7">negative_slope=0.1</tspan><tspan x="0" dy="5.7">@blocks.8.convs1.2.0</tspan></text></g>
<g id="conv1d_54_149" transform="translate(351.5,428)"><rect class="g" x="-26.5" width="53" height="31"/><text y="5.3"><tspan class="b">conv1d_54_149</tspan><tspan x="0" dy="5.7">(1, 64, 4096), 1.0 MB</tspan><tspan x="0" dy="5.7">padding=(25,), dilation=(5,)</tspan><tspan x="0" dy="5.7">params: bias (64,)</tspan><tspan x="0" dy="5.7">@blocks.8.convs1.2.1</tspan></text></g>
<g id="leakyrelu_57_150" transform="translate(351.5,378)"><rect class="w" x="-22.5" width="45" height="25"/><text y="5.4"><tspan class="b">leakyrelu_57_150</tspan><tspan x="0" dy="5.7">(1, 64, 4096), 1.0 MB</tspan><tspan x="0" dy="5.7">negative_slope=0.1</tspan><tspan x="0" dy="5.7">@blocks.8.convs2.2.0</tspan></text></g>
<g id="conv1d_55_151" transform="translate(351.5,337)"><rect class="g" x="-22.5" width="45" height="31"/><text y="5.3"><tspan class="b">conv1d_55_151</tspan><tspan x="0" dy="5.7">(1, 64, 4096), 1.0 MB</tspan><tspan x="0" dy="5.7">padding=(5,)</tspan><tspan x="0" dy="5.7">params: bias (64,)</tspan><tspan x="0" dy="5.7">@blocks.8.convs2.2.1</tspan></text></g>
<g id="add_9_152_3" transform="translate(351,308)"><ellipse class="w" rx="29" ry="9"/><text y="-1.4"><tspan class="b">add_9_152:3</tspan><tspan x="0" dy="5.7">(1, 64, 4096), 1.0 MB</tspan></text></g>
<g id="iadd_6_153" transform="translate(289,210)"><ellipse class="w" rx="29" ry="9"/><text y="-1.4"><tspan class="b">iadd_6_153</tspan><tspan x="0" dy="5.7">(1, 64, 4096), 1.0 MB</tspan></text></g>
<g id="truediv_3_154" transform="translate(289,180)"><ellipse class="w" rx="29" ry="9"/><text y="-1.4"><tspan class="b">truediv_3_154</tspan><tspan x="0" dy="5.7">(1, 64, 4096), 1.0 MB</tspan></text></g>
</g>
</g>

<!-- STAGE 2 -->
<g id="stage2" transform="translate(-92,1678)">
<g id="clusters-s2">
<rect class="R" x="141" y="282" width="81" height="604"/><text class="L" x="143.5" y="286.8"><tspan class="b">@blocks.3</tspan><tspan x="143.5" dy="4.3">(ResidualBlock)</tspan></text>
<rect class="R" x="228" y="282" width="84" height="604"/><text class="L" x="230.5" y="286.8"><tspan class="b">@blocks.4</tspan><tspan x="230.5" dy="4.3">(ResidualBlock)</tspan></text>
<rect class="R" x="315" y="282" width="82" height="604"/><text class="L" x="317.5" y="286.8"><tspan class="b">@blocks.5</tspan><tspan x="317.5" dy="4.3">(ResidualBlock)</tspan></text>
<rect class="S" x="153" y="320" width="55" height="89"/><text class="L" x="155" y="324.8"><tspan class="b">@blocks.3.convs2.2</tspan><tspan x="155" dy="4.3">(Sequential)</tspan></text>
<rect class="S" x="147" y="411" width="62" height="90"/><text class="L" x="149" y="415.8"><tspan class="b">@blocks.3.convs1.2</tspan><tspan x="149" dy="4.3">(Sequential)</tspan></text>
<rect class="S" x="153" y="528" width="55" height="89"/><text class="L" x="155" y="532.8"><tspan class="b">@blocks.3.convs2.1</tspan><tspan x="155" dy="4.3">(Sequential)</tspan></text>
<rect class="S" x="147" y="619" width="62" height="89"/><text class="L" x="149" y="623.8"><tspan class="b">@blocks.3.convs1.1</tspan><tspan x="149" dy="4.3">(Sequential)</tspan></text>
<rect class="S" x="156" y="734" width="55" height="90"/><text class="L" x="158" y="738.8"><tspan class="b">@blocks.3.convs2.0</tspan><tspan x="158" dy="4.3">(Sequential)</tspan></text>
<rect class="S" x="156" y="826" width="55" height="54"/><text class="L" x="158" y="830.8"><tspan class="b">@blocks.3.convs1.0</tspan><tspan x="158" dy="4.3">(Sequential)</tspan></text>
<rect class="S" x="241" y="320" width="55" height="89"/><text class="L" x="243" y="324.8"><tspan class="b">@blocks.4.convs2.2</tspan><tspan x="243" dy="4.3">(Sequential)</tspan></text>
<rect class="S" x="234" y="411" width="64" height="90"/><text class="L" x="236" y="415.8"><tspan class="b">@blocks.4.convs1.2</tspan><tspan x="236" dy="4.3">(Sequential)</tspan></text>
<rect class="S" x="240" y="528" width="56" height="89"/><text class="L" x="242" y="532.8"><tspan class="b">@blocks.4.convs2.1</tspan><tspan x="242" dy="4.3">(Sequential)</tspan></text>
<rect class="S" x="235" y="619" width="63" height="89"/><text class="L" x="237" y="623.8"><tspan class="b">@blocks.4.convs1.1</tspan><tspan x="237" dy="4.3">(Sequential)</tspan></text>
<rect class="S" x="239" y="734" width="56" height="90"/><text class="L" x="241" y="738.8"><tspan class="b">@blocks.4.convs2.0</tspan><tspan x="241" dy="4.3">(Sequential)</tspan></text>
<rect class="S" x="239" y="826" width="56" height="54"/><text class="L" x="241" y="830.8"><tspan class="b">@blocks.4.convs1.0</tspan><tspan x="241" dy="4.3">(Sequential)</tspan></text>
<rect class="S" x="323" y="320" width="57" height="89"/><text class="L" x="325" y="324.8"><tspan class="b">@blocks.5.convs2.2</tspan><tspan x="325" dy="4.3">(Sequential)</tspan></text>
<rect class="S" x="319" y="411" width="64" height="90"/><text class="L" x="321" y="415.8"><tspan class="b">@blocks.5.convs1.2</tspan><tspan x="321" dy="4.3">(Sequential)</tspan></text>
<rect class="S" x="326" y="528" width="56" height="89"/><text class="L" x="328" y="532.8"><tspan class="b">@blocks.5.convs2.1</tspan><tspan x="328" dy="4.3">(Sequential)</tspan></text>
<rect class="S" x="319" y="619" width="65" height="89"/><text class="L" x="321" y="623.8"><tspan class="b">@blocks.5.convs1.1</tspan><tspan x="321" dy="4.3">(Sequential)</tspan></text>
<rect class="S" x="319" y="734" width="57" height="90"/><text class="L" x="321" y="738.8"><tspan class="b">@blocks.5.convs2.0</tspan><tspan x="321" dy="4.3">(Sequential)</tspan></text>
<rect class="S" x="319" y="826" width="57" height="54"/><text class="L" x="321" y="830.8"><tspan class="b">@blocks.5.convs1.0</tspan><tspan x="321" dy="4.3">(Sequential)</tspan></text>
<rect class="R" x="216" y="915" width="60" height="89"/><text class="L" x="218" y="919.8"><tspan class="b">@upsamples.1</tspan><tspan x="218" dy="4.3">(Sequential)</tspan></text>
</g>
<g id="connectors-s2" class="e">
<path d="M243,1010L246.5,998"/>
<path d="M246.5,973V962"/><path d="M231,931L204,913"/><path d="M251,931L258,913"/><path d="M263,931L292,913"/>
<path d="M236,931C226,880 221,790 207,728"/><path d="M241,931C233,880 228,790 244,730"/><path d="M269,942C330,925 394,880 392,800C391,765 387,742 378,729"/>
<path d="M189.5,888L184.5,874"/><path d="M183.5,843V818"/><path d="M183.5,793V782"/><path d="M183.5,751L182,731"/><path d="M181,713L180.5,703"/><path d="M180.5,678L179.5,666"/><path d="M179,635L180.5,611"/><path d="M180.5,586V575"/><path d="M180.5,544L181,524"/><path d="M181,506L180.5,495"/><path d="M180.5,470L179.5,459"/><path d="M179,428L180.5,403"/><path d="M180.5,378V368"/><path d="M180.5,337L183,317"/><path d="M204,716C223,703 221,548 207,522"/><path d="M204,509C223,496 221,338 208,315"/>
<path d="M261.5,888L266,874"/><path d="M267,843V818"/><path d="M267,793V782"/><path d="M267,751V731"/><path d="M267,713L266.5,703"/><path d="M266.5,678V666"/><path d="M266.5,635L268,611"/><path d="M268,586V575"/><path d="M268,544L270,524"/><path d="M271,506L267,495"/><path d="M267,470L266,459"/><path d="M266,428L268.5,403"/><path d="M268.5,378V368"/><path d="M268.5,337L272,317"/><path d="M290,716C309,703 308,548 296,522"/><path d="M294,509C312,496 310,338 297,315"/>
<path d="M315,888L333,874"/><path d="M347.5,843V818"/><path d="M347.5,793V782"/><path d="M347.5,751L355,731"/><path d="M358,713L352,703"/><path d="M351.5,678V666"/><path d="M351.5,635L354,611"/><path d="M354,586V575"/><path d="M354,544L357,524"/><path d="M358,506L352,495"/><path d="M351.5,470V459"/><path d="M351.5,428V403"/><path d="M351.5,378V368"/><path d="M351.5,337L351,317"/><path d="M380,716C398,703 397,548 382,522"/><path d="M379,509C397,496 396,338 381,315"/>
<path d="M191,299L203,279"/><path d="M273,299L272,249"/><path d="M345,299L296,219"/><path d="M222,262L255,247"/><path d="M279,231L285,219"/><path d="M289,201V189"/>
<text class="al" x="252" y="250.3">arg 0</text><text class="al" x="282" y="221.6">arg 0</text>
</g>
<g id="nodes-s2">
<g id="leakyrelu_20_53" transform="translate(246.5,973)"><rect class="w" x="-22.5" width="45" height="25"/><text y="5.4"><tspan class="b">leakyrelu_20_53</tspan><tspan x="0" dy="5.7">(1, 256, 256), 256.0 KB</tspan><tspan x="0" dy="5.7">negative_slope=0.1</tspan><tspan x="0" dy="5.7">@upsamples.1.0</tspan></text></g>
<g id="convtranspose1d_2_54" transform="translate(246.5,931)"><rect class="g" x="-22.5" width="45" height="31"/><text y="5.3"><tspan class="b">convtranspose1d_2_54</tspan><tspan x="0" dy="5.7">(1, 128, 2048), 1.0 MB</tspan><tspan x="0" dy="5.7">stride=(8,), padding=(4,)</tspan><tspan x="0" dy="5.7">params: bias (128,)</tspan><tspan x="0" dy="5.7">@upsamples.1.1</tspan></text></g>
<g id="leakyrelu_21_55" transform="translate(189.5,888)"><rect class="w" x="-22.5" width="45" height="25"/><text y="5.4"><tspan class="b">leakyrelu_21_55</tspan><tspan x="0" dy="5.7">(1, 128, 2048), 1.0 MB</tspan><tspan x="0" dy="5.7">negative_slope=0.1</tspan><tspan x="0" dy="5.7">@blocks.3.convs1.0.0</tspan></text></g>
<g id="conv1d_20_56" transform="translate(183.5,843)"><rect class="g" x="-22.5" width="45" height="31"/><text y="5.3"><tspan class="b">conv1d_20_56</tspan><tspan x="0" dy="5.7">(1, 128, 2048), 1.0 MB</tspan><tspan x="0" dy="5.7">padding=(1,)</tspan><tspan x="0" dy="5.7">params: bias (128,)</tspan><tspan x="0" dy="5.7">@blocks.3.convs1.0.1</tspan></text></g>
<g id="leakyrelu_22_57" transform="translate(183.5,793)"><rect class="w" x="-22.5" width="45" height="25"/><text y="5.4"><tspan class="b">leakyrelu_22_57</tspan><tspan x="0" dy="5.7">(1, 128, 2048), 1.0 MB</tspan><tspan x="0" dy="5.7">negative_slope=0.1</tspan><tspan x="0" dy="5.7">@blocks.3.convs2.0.0</tspan></text></g>
<g id="conv1d_21_58" transform="translate(183.5,751)"><rect class="g" x="-22.5" width="45" height="31"/><text y="5.3"><tspan class="b">conv1d_21_58</tspan><tspan x="0" dy="5.7">(1, 128, 2048), 1.0 MB</tspan><tspan x="0" dy="5.7">padding=(1,)</tspan><tspan x="0" dy="5.7">params: bias (128,)</tspan><tspan x="0" dy="5.7">@blocks.3.convs2.0.1</tspan></text></g>
<g id="add_4_59_1" transform="translate(181,722)"><ellipse class="w" rx="31.5" ry="9"/><text y="-1.4"><tspan class="b">add_4_59:1</tspan><tspan x="0" dy="5.7">(1, 128, 2048), 1.0 MB</tspan></text></g>
<g id="leakyrelu_23_60" transform="translate(180.5,678)"><rect class="w" x="-22.5" width="45" height="25"/><text y="5.4"><tspan class="b">leakyrelu_23_60</tspan><tspan x="0" dy="5.7">(1, 128, 2048), 1.0 MB</tspan><tspan x="0" dy="5.7">negative_slope=0.1</tspan><tspan x="0" dy="5.7">@blocks.3.convs1.1.0</tspan></text></g>
<g id="conv1d_22_61" transform="translate(179,635)"><rect class="g" x="-26" width="52" height="31"/><text y="5.3"><tspan class="b">conv1d_22_61</tspan><tspan x="0" dy="5.7">(1, 128, 2048), 1.0 MB</tspan><tspan x="0" dy="5.7">padding=(3,), dilation=(3,)</tspan><tspan x="0" dy="5.7">params: bias (128,)</tspan><tspan x="0" dy="5.7">@blocks.3.convs1.1.1</tspan></text></g>
<g id="leakyrelu_24_62" transform="translate(180.5,586)"><rect class="w" x="-22.5" width="45" height="25"/><text y="5.4"><tspan class="b">leakyrelu_24_62</tspan><tspan x="0" dy="5.7">(1, 128, 2048), 1.0 MB</tspan><tspan x="0" dy="5.7">negative_slope=0.1</tspan><tspan x="0" dy="5.7">@blocks.3.convs2.1.0</tspan></text></g>
<g id="conv1d_23_63" transform="translate(180.5,544)"><rect class="g" x="-22.5" width="45" height="31"/><text y="5.3"><tspan class="b">conv1d_23_63</tspan><tspan x="0" dy="5.7">(1, 128, 2048), 1.0 MB</tspan><tspan x="0" dy="5.7">padding=(1,)</tspan><tspan x="0" dy="5.7">params: bias (128,)</tspan><tspan x="0" dy="5.7">@blocks.3.convs2.1.1</tspan></text></g>
<g id="add_4_64_2" transform="translate(181,515)"><ellipse class="w" rx="31.5" ry="9"/><text y="-1.4"><tspan class="b">add_4_64:2</tspan><tspan x="0" dy="5.7">(1, 128, 2048), 1.0 MB</tspan></text></g>
<g id="leakyrelu_25_65" transform="translate(180.5,470)"><rect class="w" x="-22.5" width="45" height="25"/><text y="5.4"><tspan class="b">leakyrelu_25_65</tspan><tspan x="0" dy="5.7">(1, 128, 2048), 1.0 MB</tspan><tspan x="0" dy="5.7">negative_slope=0.1</tspan><tspan x="0" dy="5.7">@blocks.3.convs1.2.0</tspan></text></g>
<g id="conv1d_24_66" transform="translate(179,428)"><rect class="g" x="-26" width="52" height="31"/><text y="5.3"><tspan class="b">conv1d_24_66</tspan><tspan x="0" dy="5.7">(1, 128, 2048), 1.0 MB</tspan><tspan x="0" dy="5.7">padding=(5,), dilation=(5,)</tspan><tspan x="0" dy="5.7">params: bias (128,)</tspan><tspan x="0" dy="5.7">@blocks.3.convs1.2.1</tspan></text></g>
<g id="leakyrelu_26_67" transform="translate(180.5,378)"><rect class="w" x="-22.5" width="45" height="25"/><text y="5.4"><tspan class="b">leakyrelu_26_67</tspan><tspan x="0" dy="5.7">(1, 128, 2048), 1.0 MB</tspan><tspan x="0" dy="5.7">negative_slope=0.1</tspan><tspan x="0" dy="5.7">@blocks.3.convs2.2.0</tspan></text></g>
<g id="conv1d_25_68" transform="translate(180.5,337)"><rect class="g" x="-22.5" width="45" height="31"/><text y="5.3"><tspan class="b">conv1d_25_68</tspan><tspan x="0" dy="5.7">(1, 128, 2048), 1.0 MB</tspan><tspan x="0" dy="5.7">padding=(1,)</tspan><tspan x="0" dy="5.7">params: bias (128,)</tspan><tspan x="0" dy="5.7">@blocks.3.convs2.2.1</tspan></text></g>
<g id="add_4_69_3" transform="translate(184,308)"><ellipse class="w" rx="31.5" ry="9"/><text y="-1.4"><tspan class="b">add_4_69:3</tspan><tspan x="0" dy="5.7">(1, 128, 2048), 1.0 MB</tspan></text></g>
<g id="radd_2_70" transform="translate(208,270)"><ellipse class="w" rx="31.5" ry="9"/><text y="-1.4"><tspan class="b">radd_2_70</tspan><tspan x="0" dy="5.7">(1, 128, 2048), 1.0 MB</tspan></text></g>
<g id="leakyrelu_27_71" transform="translate(260.5,888)"><rect class="w" x="-22.5" width="45" height="25"/><text y="5.4"><tspan class="b">leakyrelu_27_71</tspan><tspan x="0" dy="5.7">(1, 128, 2048), 1.0 MB</tspan><tspan x="0" dy="5.7">negative_slope=0.1</tspan><tspan x="0" dy="5.7">@blocks.4.convs1.0.0</tspan></text></g>
<g id="conv1d_26_72" transform="translate(267,843)"><rect class="g" x="-22.5" width="45" height="31"/><text y="5.3"><tspan class="b">conv1d_26_72</tspan><tspan x="0" dy="5.7">(1, 128, 2048), 1.0 MB</tspan><tspan x="0" dy="5.7">padding=(3,)</tspan><tspan x="0" dy="5.7">params: bias (128,)</tspan><tspan x="0" dy="5.7">@blocks.4.convs1.0.1</tspan></text></g>
<g id="leakyrelu_28_73" transform="translate(267,793)"><rect class="w" x="-22.5" width="45" height="25"/><text y="5.4"><tspan class="b">leakyrelu_28_73</tspan><tspan x="0" dy="5.7">(1, 128, 2048), 1.0 MB</tspan><tspan x="0" dy="5.7">negative_slope=0.1</tspan><tspan x="0" dy="5.7">@blocks.4.convs2.0.0</tspan></text></g>
<g id="conv1d_27_74" transform="translate(267,751)"><rect class="g" x="-22.5" width="45" height="31"/><text y="5.3"><tspan class="b">conv1d_27_74</tspan><tspan x="0" dy="5.7">(1, 128, 2048), 1.0 MB</tspan><tspan x="0" dy="5.7">padding=(3,)</tspan><tspan x="0" dy="5.7">params: bias (128,)</tspan><tspan x="0" dy="5.7">@blocks.4.convs2.0.1</tspan></text></g>
<g id="add_5_75_1" transform="translate(267,722)"><ellipse class="w" rx="31.5" ry="9"/><text y="-1.4"><tspan class="b">add_5_75:1</tspan><tspan x="0" dy="5.7">(1, 128, 2048), 1.0 MB</tspan></text></g>
<g id="leakyrelu_29_76" transform="translate(266.5,678)"><rect class="w" x="-22.5" width="45" height="25"/><text y="5.4"><tspan class="b">leakyrelu_29_76</tspan><tspan x="0" dy="5.7">(1, 128, 2048), 1.0 MB</tspan><tspan x="0" dy="5.7">negative_slope=0.1</tspan><tspan x="0" dy="5.7">@blocks.4.convs1.1.0</tspan></text></g>
<g id="conv1d_28_77" transform="translate(266.5,635)"><rect class="g" x="-26" width="52" height="31"/><text y="5.3"><tspan class="b">conv1d_28_77</tspan><tspan x="0" dy="5.7">(1, 128, 2048), 1.0 MB</tspan><tspan x="0" dy="5.7">padding=(9,), dilation=(3,)</tspan><tspan x="0" dy="5.7">params: bias (128,)</tspan><tspan x="0" dy="5.7">@blocks.4.convs1.1.1</tspan></text></g>
<g id="leakyrelu_30_78" transform="translate(268,586)"><rect class="w" x="-22.5" width="45" height="25"/><text y="5.4"><tspan class="b">leakyrelu_30_78</tspan><tspan x="0" dy="5.7">(1, 128, 2048), 1.0 MB</tspan><tspan x="0" dy="5.7">negative_slope=0.1</tspan><tspan x="0" dy="5.7">@blocks.4.convs2.1.0</tspan></text></g>
<g id="conv1d_29_79" transform="translate(268,544)"><rect class="g" x="-22.5" width="45" height="31"/><text y="5.3"><tspan class="b">conv1d_29_79</tspan><tspan x="0" dy="5.7">(1, 128, 2048), 1.0 MB</tspan><tspan x="0" dy="5.7">padding=(3,)</tspan><tspan x="0" dy="5.7">params: bias (128,)</tspan><tspan x="0" dy="5.7">@blocks.4.convs2.1.1</tspan></text></g>
<g id="add_5_80_2" transform="translate(271,515)"><ellipse class="w" rx="31.5" ry="9"/><text y="-1.4"><tspan class="b">add_5_80:2</tspan><tspan x="0" dy="5.7">(1, 128, 2048), 1.0 MB</tspan></text></g>
<g id="leakyrelu_31_81" transform="translate(267,470)"><rect class="w" x="-22.5" width="45" height="25"/><text y="5.4"><tspan class="b">leakyrelu_31_81</tspan><tspan x="0" dy="5.7">(1, 128, 2048), 1.0 MB</tspan><tspan x="0" dy="5.7">negative_slope=0.1</tspan><tspan x="0" dy="5.7">@blocks.4.convs1.2.0</tspan></text></g>
<g id="conv1d_30_82" transform="translate(266,428)"><rect class="g" x="-26" width="52" height="31"/><text y="5.3"><tspan class="b">conv1d_30_82</tspan><tspan x="0" dy="5.7">(1, 128, 2048), 1.0 MB</tspan><tspan x="0" dy="5.7">padding=(15,), dilation=(5,)</tspan><tspan x="0" dy="5.7">params: bias (128,)</tspan><tspan x="0" dy="5.7">@blocks.4.convs1.2.1</tspan></text></g>
<g id="leakyrelu_32_83" transform="translate(268.5,378)"><rect class="w" x="-22.5" width="45" height="25"/><text y="5.4"><tspan class="b">leakyrelu_32_83</tspan><tspan x="0" dy="5.7">(1, 128, 2048), 1.0 MB</tspan><tspan x="0" dy="5.7">negative_slope=0.1</tspan><tspan x="0" dy="5.7">@blocks.4.convs2.2.0</tspan></text></g>
<g id="conv1d_31_84" transform="translate(268.5,337)"><rect class="g" x="-22.5" width="45" height="31"/><text y="5.3"><tspan class="b">conv1d_31_84</tspan><tspan x="0" dy="5.7">(1, 128, 2048), 1.0 MB</tspan><tspan x="0" dy="5.7">padding=(3,)</tspan><tspan x="0" dy="5.7">params: bias (128,)</tspan><tspan x="0" dy="5.7">@blocks.4.convs2.2.1</tspan></text></g>
<g id="add_5_85_3" transform="translate(273,308)"><ellipse class="w" rx="31.5" ry="9"/><text y="-1.4"><tspan class="b">add_5_85:3</tspan><tspan x="0" dy="5.7">(1, 128, 2048), 1.0 MB</tspan></text></g>
<g id="iadd_3_86" transform="translate(272,240)"><ellipse class="w" rx="31.5" ry="9"/><text y="-1.4"><tspan class="b">iadd_3_86</tspan><tspan x="0" dy="5.7">(1, 128, 2048), 1.0 MB</tspan></text></g>
<g id="leakyrelu_33_87" transform="translate(311,888)"><rect class="w" x="-22" width="44" height="25"/><text y="5.4"><tspan class="b">leakyrelu_33_87</tspan><tspan x="0" dy="5.7">(1, 128, 2048), 1.0 MB</tspan><tspan x="0" dy="5.7">negative_slope=0.1</tspan><tspan x="0" dy="5.7">@blocks.5.convs1.0.0</tspan></text></g>
<g id="conv1d_32_88" transform="translate(347.5,843)"><rect class="g" x="-22.5" width="45" height="31"/><text y="5.3"><tspan class="b">conv1d_32_88</tspan><tspan x="0" dy="5.7">(1, 128, 2048), 1.0 MB</tspan><tspan x="0" dy="5.7">padding=(5,)</tspan><tspan x="0" dy="5.7">params: bias (128,)</tspan><tspan x="0" dy="5.7">@blocks.5.convs1.0.1</tspan></text></g>
<g id="leakyrelu_34_89" transform="translate(347.5,793)"><rect class="w" x="-22.5" width="45" height="25"/><text y="5.4"><tspan class="b">leakyrelu_34_89</tspan><tspan x="0" dy="5.7">(1, 128, 2048), 1.0 MB</tspan><tspan x="0" dy="5.7">negative_slope=0.1</tspan><tspan x="0" dy="5.7">@blocks.5.convs2.0.0</tspan></text></g>
<g id="conv1d_33_90" transform="translate(347.5,751)"><rect class="g" x="-22.5" width="45" height="31"/><text y="5.3"><tspan class="b">conv1d_33_90</tspan><tspan x="0" dy="5.7">(1, 128, 2048), 1.0 MB</tspan><tspan x="0" dy="5.7">padding=(5,)</tspan><tspan x="0" dy="5.7">params: bias (128,)</tspan><tspan x="0" dy="5.7">@blocks.5.convs2.0.1</tspan></text></g>
<g id="add_6_91_1" transform="translate(358,722)"><ellipse class="w" rx="31.5" ry="9"/><text y="-1.4"><tspan class="b">add_6_91:1</tspan><tspan x="0" dy="5.7">(1, 128, 2048), 1.0 MB</tspan></text></g>
<g id="leakyrelu_35_92" transform="translate(351.5,678)"><rect class="w" x="-22.5" width="45" height="25"/><text y="5.4"><tspan class="b">leakyrelu_35_92</tspan><tspan x="0" dy="5.7">(1, 128, 2048), 1.0 MB</tspan><tspan x="0" dy="5.7">negative_slope=0.1</tspan><tspan x="0" dy="5.7">@blocks.5.convs1.1.0</tspan></text></g>
<g id="conv1d_34_93" transform="translate(351.5,635)"><rect class="g" x="-26.5" width="53" height="31"/><text y="5.3"><tspan class="b">conv1d_34_93</tspan><tspan x="0" dy="5.7">(1, 128, 2048), 1.0 MB</tspan><tspan x="0" dy="5.7">padding=(15,), dilation=(3,)</tspan><tspan x="0" dy="5.7">params: bias (128,)</tspan><tspan x="0" dy="5.7">@blocks.5.convs1.1.1</tspan></text></g>
<g id="leakyrelu_36_94" transform="translate(354,586)"><rect class="w" x="-22.5" width="45" height="25"/><text y="5.4"><tspan class="b">leakyrelu_36_94</tspan><tspan x="0" dy="5.7">(1, 128, 2048), 1.0 MB</tspan><tspan x="0" dy="5.7">negative_slope=0.1</tspan><tspan x="0" dy="5.7">@blocks.5.convs2.1.0</tspan></text></g>
<g id="conv1d_35_95" transform="translate(354,544)"><rect class="g" x="-22.5" width="45" height="31"/><text y="5.3"><tspan class="b">conv1d_35_95</tspan><tspan x="0" dy="5.7">(1, 128, 2048), 1.0 MB</tspan><tspan x="0" dy="5.7">padding=(5,)</tspan><tspan x="0" dy="5.7">params: bias (128,)</tspan><tspan x="0" dy="5.7">@blocks.5.convs2.1.1</tspan></text></g>
<g id="add_6_96_2" transform="translate(358,515)"><ellipse class="w" rx="31.5" ry="9"/><text y="-1.4"><tspan class="b">add_6_96:2</tspan><tspan x="0" dy="5.7">(1, 128, 2048), 1.0 MB</tspan></text></g>
<g id="leakyrelu_37_97" transform="translate(351.5,470)"><rect class="w" x="-22.5" width="45" height="25"/><text y="5.4"><tspan class="b">leakyrelu_37_97</tspan><tspan x="0" dy="5.7">(1, 128, 2048), 1.0 MB</tspan><tspan x="0" dy="5.7">negative_slope=0.1</tspan><tspan x="0" dy="5.7">@blocks.5.convs1.2.0</tspan></text></g>
<g id="conv1d_36_98" transform="translate(351.5,428)"><rect class="g" x="-26.5" width="53" height="31"/><text y="5.3"><tspan class="b">conv1d_36_98</tspan><tspan x="0" dy="5.7">(1, 128, 2048), 1.0 MB</tspan><tspan x="0" dy="5.7">padding=(25,), dilation=(5,)</tspan><tspan x="0" dy="5.7">params: bias (128,)</tspan><tspan x="0" dy="5.7">@blocks.5.convs1.2.1</tspan></text></g>
<g id="leakyrelu_38_99" transform="translate(351.5,378)"><rect class="w" x="-22.5" width="45" height="25"/><text y="5.4"><tspan class="b">leakyrelu_38_99</tspan><tspan x="0" dy="5.7">(1, 128, 2048), 1.0 MB</tspan><tspan x="0" dy="5.7">negative_slope=0.1</tspan><tspan x="0" dy="5.7">@blocks.5.convs2.2.0</tspan></text></g>
<g id="conv1d_37_100" transform="translate(351.5,337)"><rect class="g" x="-22.5" width="45" height="31"/><text y="5.3"><tspan class="b">conv1d_37_100</tspan><tspan x="0" dy="5.7">(1, 128, 2048), 1.0 MB</tspan><tspan x="0" dy="5.7">padding=(5,)</tspan><tspan x="0" dy="5.7">params: bias (128,)</tspan><tspan x="0" dy="5.7">@blocks.5.convs2.2.1</tspan></text></g>
<g id="add_6_101_3" transform="translate(351,308)"><ellipse class="w" rx="31.5" ry="9"/><text y="-1.4"><tspan class="b">add_6_101:3</tspan><tspan x="0" dy="5.7">(1, 128, 2048), 1.0 MB</tspan></text></g>
<g id="iadd_4_102" transform="translate(291,210)"><ellipse class="w" rx="31.5" ry="9"/><text y="-1.4"><tspan class="b">iadd_4_102</tspan><tspan x="0" dy="5.7">(1, 128, 2048), 1.0 MB</tspan></text></g>
<g id="truediv_2_103" transform="translate(291,180)"><ellipse class="w" rx="31.5" ry="9"/><text y="-1.4"><tspan class="b">truediv_2_103</tspan><tspan x="0" dy="5.7">(1, 128, 2048), 1.0 MB</tspan></text></g>
</g>
</g>

<!-- STAGE 1 -->
<g id="stage1" transform="translate(-138,2517)">
<g id="clusters-s1">
<rect class="R" x="141" y="282" width="81" height="604"/><text class="L" x="143.5" y="286.8"><tspan class="b">@blocks.0</tspan><tspan x="143.5" dy="4.3">(ResidualBlock)</tspan></text>
<rect class="R" x="228" y="282" width="84" height="604"/><text class="L" x="230.5" y="286.8"><tspan class="b">@blocks.1</tspan><tspan x="230.5" dy="4.3">(ResidualBlock)</tspan></text>
<rect class="R" x="315" y="282" width="82" height="604"/><text class="L" x="317.5" y="286.8"><tspan class="b">@blocks.2</tspan><tspan x="317.5" dy="4.3">(ResidualBlock)</tspan></text>
<rect class="S" x="153" y="320" width="55" height="89"/><text class="L" x="155" y="324.8"><tspan class="b">@blocks.0.convs2.2</tspan><tspan x="155" dy="4.3">(Sequential)</tspan></text>
<rect class="S" x="147" y="411" width="62" height="90"/><text class="L" x="149" y="415.8"><tspan class="b">@blocks.0.convs1.2</tspan><tspan x="149" dy="4.3">(Sequential)</tspan></text>
<rect class="S" x="153" y="528" width="55" height="89"/><text class="L" x="155" y="532.8"><tspan class="b">@blocks.0.convs2.1</tspan><tspan x="155" dy="4.3">(Sequential)</tspan></text>
<rect class="S" x="147" y="619" width="62" height="89"/><text class="L" x="149" y="623.8"><tspan class="b">@blocks.0.convs1.1</tspan><tspan x="149" dy="4.3">(Sequential)</tspan></text>
<rect class="S" x="156" y="734" width="55" height="90"/><text class="L" x="158" y="738.8"><tspan class="b">@blocks.0.convs2.0</tspan><tspan x="158" dy="4.3">(Sequential)</tspan></text>
<rect class="S" x="156" y="826" width="55" height="54"/><text class="L" x="158" y="830.8"><tspan class="b">@blocks.0.convs1.0</tspan><tspan x="158" dy="4.3">(Sequential)</tspan></text>
<rect class="S" x="241" y="320" width="55" height="89"/><text class="L" x="243" y="324.8"><tspan class="b">@blocks.1.convs2.2</tspan><tspan x="243" dy="4.3">(Sequential)</tspan></text>
<rect class="S" x="234" y="411" width="64" height="90"/><text class="L" x="236" y="415.8"><tspan class="b">@blocks.1.convs1.2</tspan><tspan x="236" dy="4.3">(Sequential)</tspan></text>
<rect class="S" x="240" y="528" width="56" height="89"/><text class="L" x="242" y="532.8"><tspan class="b">@blocks.1.convs2.1</tspan><tspan x="242" dy="4.3">(Sequential)</tspan></text>
<rect class="S" x="235" y="619" width="63" height="89"/><text class="L" x="237" y="623.8"><tspan class="b">@blocks.1.convs1.1</tspan><tspan x="237" dy="4.3">(Sequential)</tspan></text>
<rect class="S" x="239" y="734" width="56" height="90"/><text class="L" x="241" y="738.8"><tspan class="b">@blocks.1.convs2.0</tspan><tspan x="241" dy="4.3">(Sequential)</tspan></text>
<rect class="S" x="239" y="826" width="56" height="54"/><text class="L" x="241" y="830.8"><tspan class="b">@blocks.1.convs1.0</tspan><tspan x="241" dy="4.3">(Sequential)</tspan></text>
<rect class="S" x="323" y="320" width="57" height="89"/><text class="L" x="325" y="324.8"><tspan class="b">@blocks.2.convs2.2</tspan><tspan x="325" dy="4.3">(Sequential)</tspan></text>
<rect class="S" x="319" y="411" width="64" height="90"/><text class="L" x="321" y="415.8"><tspan class="b">@blocks.2.convs1.2</tspan><tspan x="321" dy="4.3">(Sequential)</tspan></text>
<rect class="S" x="326" y="528" width="56" height="89"/><text class="L" x="328" y="532.8"><tspan class="b">@blocks.2.convs2.1</tspan><tspan x="328" dy="4.3">(Sequential)</tspan></text>
<rect class="S" x="319" y="619" width="65" height="89"/><text class="L" x="321" y="623.8"><tspan class="b">@blocks.2.convs1.1</tspan><tspan x="321" dy="4.3">(Sequential)</tspan></text>
<rect class="S" x="319" y="734" width="57" height="90"/><text class="L" x="321" y="738.8"><tspan class="b">@blocks.2.convs2.0</tspan><tspan x="321" dy="4.3">(Sequential)</tspan></text>
<rect class="S" x="319" y="826" width="57" height="54"/><text class="L" x="321" y="830.8"><tspan class="b">@blocks.2.convs1.0</tspan><tspan x="321" dy="4.3">(Sequential)</tspan></text>
<rect class="R" x="216" y="915" width="60" height="89"/><text class="L" x="218" y="919.8"><tspan class="b">@upsamples.0</tspan><tspan x="218" dy="4.3">(Sequential)</tspan></text>
</g>
<g id="connectors-s1" class="e">
<path d="M246.5,1042V1031"/><path d="M246.5,1011V998"/>
<path d="M246.5,973V962"/><path d="M231,931L204,913"/><path d="M251,931L258,913"/><path d="M263,931L292,913"/>
<path d="M236,931C226,880 221,790 207,728"/><path d="M241,931C233,880 228,790 244,730"/><path d="M269,942C330,925 394,880 392,800C391,765 387,742 378,729"/>
<path d="M189.5,888L184.5,874"/><path d="M183.5,843V818"/><path d="M183.5,793V782"/><path d="M183.5,751L182,731"/><path d="M181,713L180.5,703"/><path d="M180.5,678L179.5,666"/><path d="M179,635L180.5,611"/><path d="M180.5,586V575"/><path d="M180.5,544L181,524"/><path d="M181,506L180.5,495"/><path d="M180.5,470L179.5,459"/><path d="M179,428L180.5,403"/><path d="M180.5,378V368"/><path d="M180.5,337L183,317"/><path d="M205,716C224,703 222,548 208,522"/><path d="M205,509C224,496 222,338 209,315"/>
<path d="M261.5,888L266,874"/><path d="M267,843V818"/><path d="M267,793V782"/><path d="M267,751V731"/><path d="M267,713L266.5,703"/><path d="M266.5,678V666"/><path d="M266.5,635L268,611"/><path d="M268,586V575"/><path d="M268,544L270,524"/><path d="M271,506L267,495"/><path d="M267,470L266,459"/><path d="M266,428L268.5,403"/><path d="M268.5,378V368"/><path d="M268.5,337L272,317"/><path d="M291,716C310,703 309,548 297,522"/><path d="M295,509C313,496 311,338 298,315"/>
<path d="M315,888L333,874"/><path d="M347.5,843V818"/><path d="M347.5,793V782"/><path d="M347.5,751L355,731"/><path d="M358,713L352,703"/><path d="M351.5,678V666"/><path d="M351.5,635L354,611"/><path d="M354,586V575"/><path d="M354,544L357,524"/><path d="M358,506L352,495"/><path d="M351.5,470V459"/><path d="M351.5,428V403"/><path d="M351.5,378V368"/><path d="M351.5,337L351,317"/><path d="M381,716C398,703 397,548 383,522"/><path d="M380,509C397,496 396,338 382,315"/>
<path d="M191,299L203,279"/><path d="M273,299L272,249"/><path d="M345,299L296,219"/><path d="M224,262L255,247"/><path d="M279,231L285,219"/><path d="M291,201V189"/>
<text class="al" x="252" y="250.3">arg 0</text><text class="al" x="282" y="221.6">arg 0</text>
</g>
<g id="nodes-s1">
<g id="leakyrelu_1_2" transform="translate(246.5,973)"><rect class="w" x="-22.5" width="45" height="25"/><text y="5.4"><tspan class="b">leakyrelu_1_2</tspan><tspan x="0" dy="5.7">(1, 512, 32), 64.0 KB</tspan><tspan x="0" dy="5.7">negative_slope=0.1</tspan><tspan x="0" dy="5.7">@upsamples.0.0</tspan></text></g>
<g id="convtranspose1d_1_3" transform="translate(246.5,931)"><rect class="g" x="-23.5" width="47" height="31"/><text y="5.3"><tspan class="b">convtranspose1d_1_3</tspan><tspan x="0" dy="5.7">(1, 256, 256), 256.0 KB</tspan><tspan x="0" dy="5.7">stride=(8,), padding=(4,)</tspan><tspan x="0" dy="5.7">params: bias (256,)</tspan><tspan x="0" dy="5.7">@upsamples.0.1</tspan></text></g>
<g id="leakyrelu_2_4" transform="translate(189.5,888)"><rect class="w" x="-23.5" width="47" height="25"/><text y="5.4"><tspan class="b">leakyrelu_2_4</tspan><tspan x="0" dy="5.7">(1, 256, 256), 256.0 KB</tspan><tspan x="0" dy="5.7">negative_slope=0.1</tspan><tspan x="0" dy="5.7">@blocks.0.convs1.0.0</tspan></text></g>
<g id="conv1d_2_5" transform="translate(183.5,843)"><rect class="g" x="-23" width="46" height="31"/><text y="5.3"><tspan class="b">conv1d_2_5</tspan><tspan x="0" dy="5.7">(1, 256, 256), 256.0 KB</tspan><tspan x="0" dy="5.7">padding=(1,)</tspan><tspan x="0" dy="5.7">params: bias (256,)</tspan><tspan x="0" dy="5.7">@blocks.0.convs1.0.1</tspan></text></g>
<g id="leakyrelu_3_6" transform="translate(183.5,793)"><rect class="w" x="-23" width="46" height="25"/><text y="5.4"><tspan class="b">leakyrelu_3_6</tspan><tspan x="0" dy="5.7">(1, 256, 256), 256.0 KB</tspan><tspan x="0" dy="5.7">negative_slope=0.1</tspan><tspan x="0" dy="5.7">@blocks.0.convs2.0.0</tspan></text></g>
<g id="conv1d_3_7" transform="translate(183.5,751)"><rect class="g" x="-23" width="46" height="31"/><text y="5.3"><tspan class="b">conv1d_3_7</tspan><tspan x="0" dy="5.7">(1, 256, 256), 256.0 KB</tspan><tspan x="0" dy="5.7">padding=(1,)</tspan><tspan x="0" dy="5.7">params: bias (256,)</tspan><tspan x="0" dy="5.7">@blocks.0.convs2.0.1</tspan></text></g>
<g id="add_1_8_1" transform="translate(181,722)"><ellipse class="w" rx="32.5" ry="9"/><text y="-1.4"><tspan class="b">add_1_8:1</tspan><tspan x="0" dy="5.7">(1, 256, 256), 256.0 KB</tspan></text></g>
<g id="leakyrelu_4_9" transform="translate(180.5,678)"><rect class="w" x="-23" width="46" height="25"/><text y="5.4"><tspan class="b">leakyrelu_4_9</tspan><tspan x="0" dy="5.7">(1, 256, 256), 256.0 KB</tspan><tspan x="0" dy="5.7">negative_slope=0.1</tspan><tspan x="0" dy="5.7">@blocks.0.convs1.1.0</tspan></text></g>
<g id="conv1d_4_10" transform="translate(179,635)"><rect class="g" x="-26" width="52" height="31"/><text y="5.3"><tspan class="b">conv1d_4_10</tspan><tspan x="0" dy="5.7">(1, 256, 256), 256.0 KB</tspan><tspan x="0" dy="5.7">padding=(3,), dilation=(3,)</tspan><tspan x="0" dy="5.7">params: bias (256,)</tspan><tspan x="0" dy="5.7">@blocks.0.convs1.1.1</tspan></text></g>
<g id="leakyrelu_5_11" transform="translate(180.5,586)"><rect class="w" x="-23" width="46" height="25"/><text y="5.4"><tspan class="b">leakyrelu_5_11</tspan><tspan x="0" dy="5.7">(1, 256, 256), 256.0 KB</tspan><tspan x="0" dy="5.7">negative_slope=0.1</tspan><tspan x="0" dy="5.7">@blocks.0.convs2.1.0</tspan></text></g>
<g id="conv1d_5_12" transform="translate(180.5,544)"><rect class="g" x="-23" width="46" height="31"/><text y="5.3"><tspan class="b">conv1d_5_12</tspan><tspan x="0" dy="5.7">(1, 256, 256), 256.0 KB</tspan><tspan x="0" dy="5.7">padding=(1,)</tspan><tspan x="0" dy="5.7">params: bias (256,)</tspan><tspan x="0" dy="5.7">@blocks.0.convs2.1.1</tspan></text></g>
<g id="add_1_13_2" transform="translate(181,515)"><ellipse class="w" rx="32.5" ry="9"/><text y="-1.4"><tspan class="b">add_1_13:2</tspan><tspan x="0" dy="5.7">(1, 256, 256), 256.0 KB</tspan></text></g>
<g id="leakyrelu_6_14" transform="translate(180.5,470)"><rect class="w" x="-23" width="46" height="25"/><text y="5.4"><tspan class="b">leakyrelu_6_14</tspan><tspan x="0" dy="5.7">(1, 256, 256), 256.0 KB</tspan><tspan x="0" dy="5.7">negative_slope=0.1</tspan><tspan x="0" dy="5.7">@blocks.0.convs1.2.0</tspan></text></g>
<g id="conv1d_6_15" transform="translate(179,428)"><rect class="g" x="-26" width="52" height="31"/><text y="5.3"><tspan class="b">conv1d_6_15</tspan><tspan x="0" dy="5.7">(1, 256, 256), 256.0 KB</tspan><tspan x="0" dy="5.7">padding=(5,), dilation=(5,)</tspan><tspan x="0" dy="5.7">params: bias (256,)</tspan><tspan x="0" dy="5.7">@blocks.0.convs1.2.1</tspan></text></g>
<g id="leakyrelu_7_16" transform="translate(180.5,378)"><rect class="w" x="-23" width="46" height="25"/><text y="5.4"><tspan class="b">leakyrelu_7_16</tspan><tspan x="0" dy="5.7">(1, 256, 256), 256.0 KB</tspan><tspan x="0" dy="5.7">negative_slope=0.1</tspan><tspan x="0" dy="5.7">@blocks.0.convs2.2.0</tspan></text></g>
<g id="conv1d_7_17" transform="translate(180.5,337)"><rect class="g" x="-23" width="46" height="31"/><text y="5.3"><tspan class="b">conv1d_7_17</tspan><tspan x="0" dy="5.7">(1, 256, 256), 256.0 KB</tspan><tspan x="0" dy="5.7">padding=(1,)</tspan><tspan x="0" dy="5.7">params: bias (256,)</tspan><tspan x="0" dy="5.7">@blocks.0.convs2.2.1</tspan></text></g>
<g id="add_1_18_3" transform="translate(184,308)"><ellipse class="w" rx="32.5" ry="9"/><text y="-1.4"><tspan class="b">add_1_18:3</tspan><tspan x="0" dy="5.7">(1, 256, 256), 256.0 KB</tspan></text></g>
<g id="radd_1_19" transform="translate(208,270)"><ellipse class="w" rx="32.5" ry="9"/><text y="-1.4"><tspan class="b">radd_1_19</tspan><tspan x="0" dy="5.7">(1, 256, 256), 256.0 KB</tspan></text></g>
<g id="leakyrelu_8_20" transform="translate(263,888)"><rect class="w" x="-23" width="46" height="25"/><text y="5.4"><tspan class="b">leakyrelu_8_20</tspan><tspan x="0" dy="5.7">(1, 256, 256), 256.0 KB</tspan><tspan x="0" dy="5.7">negative_slope=0.1</tspan><tspan x="0" dy="5.7">@blocks.1.convs1.0.0</tspan></text></g>
<g id="conv1d_8_21" transform="translate(267,843)"><rect class="g" x="-23" width="46" height="31"/><text y="5.3"><tspan class="b">conv1d_8_21</tspan><tspan x="0" dy="5.7">(1, 256, 256), 256.0 KB</tspan><tspan x="0" dy="5.7">padding=(3,)</tspan><tspan x="0" dy="5.7">params: bias (256,)</tspan><tspan x="0" dy="5.7">@blocks.1.convs1.0.1</tspan></text></g>
<g id="leakyrelu_9_22" transform="translate(267,793)"><rect class="w" x="-23" width="46" height="25"/><text y="5.4"><tspan class="b">leakyrelu_9_22</tspan><tspan x="0" dy="5.7">(1, 256, 256), 256.0 KB</tspan><tspan x="0" dy="5.7">negative_slope=0.1</tspan><tspan x="0" dy="5.7">@blocks.1.convs2.0.0</tspan></text></g>
<g id="conv1d_9_23" transform="translate(267,751)"><rect class="g" x="-23" width="46" height="31"/><text y="5.3"><tspan class="b">conv1d_9_23</tspan><tspan x="0" dy="5.7">(1, 256, 256), 256.0 KB</tspan><tspan x="0" dy="5.7">padding=(3,)</tspan><tspan x="0" dy="5.7">params: bias (256,)</tspan><tspan x="0" dy="5.7">@blocks.1.convs2.0.1</tspan></text></g>
<g id="add_2_24_1" transform="translate(267,722)"><ellipse class="w" rx="32.5" ry="9"/><text y="-1.4"><tspan class="b">add_2_24:1</tspan><tspan x="0" dy="5.7">(1, 256, 256), 256.0 KB</tspan></text></g>
<g id="leakyrelu_10_25" transform="translate(266.5,678)"><rect class="w" x="-23" width="46" height="25"/><text y="5.4"><tspan class="b">leakyrelu_10_25</tspan><tspan x="0" dy="5.7">(1, 256, 256), 256.0 KB</tspan><tspan x="0" dy="5.7">negative_slope=0.1</tspan><tspan x="0" dy="5.7">@blocks.1.convs1.1.0</tspan></text></g>
<g id="conv1d_10_26" transform="translate(266.5,635)"><rect class="g" x="-26" width="52" height="31"/><text y="5.3"><tspan class="b">conv1d_10_26</tspan><tspan x="0" dy="5.7">(1, 256, 256), 256.0 KB</tspan><tspan x="0" dy="5.7">padding=(9,), dilation=(3,)</tspan><tspan x="0" dy="5.7">params: bias (256,)</tspan><tspan x="0" dy="5.7">@blocks.1.convs1.1.1</tspan></text></g>
<g id="leakyrelu_11_27" transform="translate(268,586)"><rect class="w" x="-23" width="46" height="25"/><text y="5.4"><tspan class="b">leakyrelu_11_27</tspan><tspan x="0" dy="5.7">(1, 256, 256), 256.0 KB</tspan><tspan x="0" dy="5.7">negative_slope=0.1</tspan><tspan x="0" dy="5.7">@blocks.1.convs2.1.0</tspan></text></g>
<g id="conv1d_11_28" transform="translate(268,544)"><rect class="g" x="-23" width="46" height="31"/><text y="5.3"><tspan class="b">conv1d_11_28</tspan><tspan x="0" dy="5.7">(1, 256, 256), 256.0 KB</tspan><tspan x="0" dy="5.7">padding=(3,)</tspan><tspan x="0" dy="5.7">params: bias (256,)</tspan><tspan x="0" dy="5.7">@blocks.1.convs2.1.1</tspan></text></g>
<g id="add_2_29_2" transform="translate(271,515)"><ellipse class="w" rx="32.5" ry="9"/><text y="-1.4"><tspan class="b">add_2_29:2</tspan><tspan x="0" dy="5.7">(1, 256, 256), 256.0 KB</tspan></text></g>
<g id="leakyrelu_12_30" transform="translate(267,470)"><rect class="w" x="-23" width="46" height="25"/><text y="5.4"><tspan class="b">leakyrelu_12_30</tspan><tspan x="0" dy="5.7">(1, 256, 256), 256.0 KB</tspan><tspan x="0" dy="5.7">negative_slope=0.1</tspan><tspan x="0" dy="5.7">@blocks.1.convs1.2.0</tspan></text></g>
<g id="conv1d_12_31" transform="translate(266,428)"><rect class="g" x="-26" width="52" height="31"/><text y="5.3"><tspan class="b">conv1d_12_31</tspan><tspan x="0" dy="5.7">(1, 256, 256), 256.0 KB</tspan><tspan x="0" dy="5.7">padding=(15,), dilation=(5,)</tspan><tspan x="0" dy="5.7">params: bias (256,)</tspan><tspan x="0" dy="5.7">@blocks.1.convs1.2.1</tspan></text></g>
<g id="leakyrelu_13_32" transform="translate(268.5,378)"><rect class="w" x="-23" width="46" height="25"/><text y="5.4"><tspan class="b">leakyrelu_13_32</tspan><tspan x="0" dy="5.7">(1, 256, 256), 256.0 KB</tspan><tspan x="0" dy="5.7">negative_slope=0.1</tspan><tspan x="0" dy="5.7">@blocks.1.convs2.2.0</tspan></text></g>
<g id="conv1d_13_33" transform="translate(268.5,337)"><rect class="g" x="-23" width="46" height="31"/><text y="5.3"><tspan class="b">conv1d_13_33</tspan><tspan x="0" dy="5.7">(1, 256, 256), 256.0 KB</tspan><tspan x="0" dy="5.7">padding=(3,)</tspan><tspan x="0" dy="5.7">params: bias (256,)</tspan><tspan x="0" dy="5.7">@blocks.1.convs2.2.1</tspan></text></g>
<g id="add_2_34_3" transform="translate(271,308)"><ellipse class="w" rx="32.5" ry="9"/><text y="-1.4"><tspan class="b">add_2_34:3</tspan><tspan x="0" dy="5.7">(1, 256, 256), 256.0 KB</tspan></text></g>
<g id="iadd_1_35" transform="translate(271,240)"><ellipse class="w" rx="32.5" ry="9"/><text y="-1.4"><tspan class="b">iadd_1_35</tspan><tspan x="0" dy="5.7">(1, 256, 256), 256.0 KB</tspan></text></g>
<g id="leakyrelu_14_36" transform="translate(313.5,888)"><rect class="w" x="-23.5" width="47" height="25"/><text y="5.4"><tspan class="b">leakyrelu_14_36</tspan><tspan x="0" dy="5.7">(1, 256, 256), 256.0 KB</tspan><tspan x="0" dy="5.7">negative_slope=0.1</tspan><tspan x="0" dy="5.7">@blocks.2.convs1.0.0</tspan></text></g>
<g id="conv1d_14_37" transform="translate(347.5,843)"><rect class="g" x="-23" width="46" height="31"/><text y="5.3"><tspan class="b">conv1d_14_37</tspan><tspan x="0" dy="5.7">(1, 256, 256), 256.0 KB</tspan><tspan x="0" dy="5.7">padding=(5,)</tspan><tspan x="0" dy="5.7">params: bias (256,)</tspan><tspan x="0" dy="5.7">@blocks.2.convs1.0.1</tspan></text></g>
<g id="leakyrelu_15_38" transform="translate(347.5,793)"><rect class="w" x="-23" width="46" height="25"/><text y="5.4"><tspan class="b">leakyrelu_15_38</tspan><tspan x="0" dy="5.7">(1, 256, 256), 256.0 KB</tspan><tspan x="0" dy="5.7">negative_slope=0.1</tspan><tspan x="0" dy="5.7">@blocks.2.convs2.0.0</tspan></text></g>
<g id="conv1d_15_39" transform="translate(347.5,751)"><rect class="g" x="-23" width="46" height="31"/><text y="5.3"><tspan class="b">conv1d_15_39</tspan><tspan x="0" dy="5.7">(1, 256, 256), 256.0 KB</tspan><tspan x="0" dy="5.7">padding=(5,)</tspan><tspan x="0" dy="5.7">params: bias (256,)</tspan><tspan x="0" dy="5.7">@blocks.2.convs2.0.1</tspan></text></g>
<g id="add_3_40_1" transform="translate(353,722)"><ellipse class="w" rx="32.5" ry="9"/><text y="-1.4"><tspan class="b">add_3_40:1</tspan><tspan x="0" dy="5.7">(1, 256, 256), 256.0 KB</tspan></text></g>
<g id="leakyrelu_16_41" transform="translate(351.5,678)"><rect class="w" x="-23" width="46" height="25"/><text y="5.4"><tspan class="b">leakyrelu_16_41</tspan><tspan x="0" dy="5.7">(1, 256, 256), 256.0 KB</tspan><tspan x="0" dy="5.7">negative_slope=0.1</tspan><tspan x="0" dy="5.7">@blocks.2.convs1.1.0</tspan></text></g>
<g id="conv1d_16_42" transform="translate(351.5,635)"><rect class="g" x="-26.5" width="53" height="31"/><text y="5.3"><tspan class="b">conv1d_16_42</tspan><tspan x="0" dy="5.7">(1, 256, 256), 256.0 KB</tspan><tspan x="0" dy="5.7">padding=(15,), dilation=(3,)</tspan><tspan x="0" dy="5.7">params: bias (256,)</tspan><tspan x="0" dy="5.7">@blocks.2.convs1.1.1</tspan></text></g>
<g id="leakyrelu_17_43" transform="translate(354,586)"><rect class="w" x="-23" width="46" height="25"/><text y="5.4"><tspan class="b">leakyrelu_17_43</tspan><tspan x="0" dy="5.7">(1, 256, 256), 256.0 KB</tspan><tspan x="0" dy="5.7">negative_slope=0.1</tspan><tspan x="0" dy="5.7">@blocks.2.convs2.1.0</tspan></text></g>
<g id="conv1d_17_44" transform="translate(354,544)"><rect class="g" x="-23" width="46" height="31"/><text y="5.3"><tspan class="b">conv1d_17_44</tspan><tspan x="0" dy="5.7">(1, 256, 256), 256.0 KB</tspan><tspan x="0" dy="5.7">padding=(5,)</tspan><tspan x="0" dy="5.7">params: bias (256,)</tspan><tspan x="0" dy="5.7">@blocks.2.convs2.1.1</tspan></text></g>
<g id="add_3_45_2" transform="translate(356,515)"><ellipse class="w" rx="32.5" ry="9"/><text y="-1.4"><tspan class="b">add_3_45:2</tspan><tspan x="0" dy="5.7">(1, 256, 256), 256.0 KB</tspan></text></g>
<g id="leakyrelu_18_46" transform="translate(351.5,470)"><rect class="w" x="-23" width="46" height="25"/><text y="5.4"><tspan class="b">leakyrelu_18_46</tspan><tspan x="0" dy="5.7">(1, 256, 256), 256.0 KB</tspan><tspan x="0" dy="5.7">negative_slope=0.1</tspan><tspan x="0" dy="5.7">@blocks.2.convs1.2.0</tspan></text></g>
<g id="conv1d_18_47" transform="translate(351.5,428)"><rect class="g" x="-26.5" width="53" height="31"/><text y="5.3"><tspan class="b">conv1d_18_47</tspan><tspan x="0" dy="5.7">(1, 256, 256), 256.0 KB</tspan><tspan x="0" dy="5.7">padding=(25,), dilation=(5,)</tspan><tspan x="0" dy="5.7">params: bias (256,)</tspan><tspan x="0" dy="5.7">@blocks.2.convs1.2.1</tspan></text></g>
<g id="leakyrelu_19_48" transform="translate(351.5,378)"><rect class="w" x="-23" width="46" height="25"/><text y="5.4"><tspan class="b">leakyrelu_19_48</tspan><tspan x="0" dy="5.7">(1, 256, 256), 256.0 KB</tspan><tspan x="0" dy="5.7">negative_slope=0.1</tspan><tspan x="0" dy="5.7">@blocks.2.convs2.2.0</tspan></text></g>
<g id="conv1d_19_49" transform="translate(351.5,337)"><rect class="g" x="-23" width="46" height="31"/><text y="5.3"><tspan class="b">conv1d_19_49</tspan><tspan x="0" dy="5.7">(1, 256, 256), 256.0 KB</tspan><tspan x="0" dy="5.7">padding=(5,)</tspan><tspan x="0" dy="5.7">params: bias (256,)</tspan><tspan x="0" dy="5.7">@blocks.2.convs2.2.1</tspan></text></g>
<g id="add_3_50_3" transform="translate(352,308)"><ellipse class="w" rx="32.5" ry="9"/><text y="-1.4"><tspan class="b">add_3_50:3</tspan><tspan x="0" dy="5.7">(1, 256, 256), 256.0 KB</tspan></text></g>
<g id="iadd_2_51" transform="translate(291,210)"><ellipse class="w" rx="32.5" ry="9"/><text y="-1.4"><tspan class="b">iadd_2_51</tspan><tspan x="0" dy="5.7">(1, 256, 256), 256.0 KB</tspan></text></g>
<g id="truediv_1_52" transform="translate(291,180)"><ellipse class="w" rx="32.5" ry="9"/><text y="-1.4"><tspan class="b">truediv_1_52</tspan><tspan x="0" dy="5.7">(1, 256, 256), 256.0 KB</tspan></text></g>
<g id="conv1d_1_1" transform="translate(246.5,1011)"><rect class="g" x="-21.5" width="43" height="31"/><text y="5.3"><tspan class="b">conv1d_1_1</tspan><tspan x="0" dy="5.7">(1, 512, 32), 64.0 KB</tspan><tspan x="0" dy="5.7">padding=(3,)</tspan><tspan x="0" dy="5.7">params: bias (512,)</tspan><tspan x="0" dy="5.7">@input_conv</tspan></text></g>
<g id="input_1" transform="translate(246.5,1066.5)"><ellipse rx="28" ry="13.5" fill="#90ee90" stroke="#999" stroke-width=".6"/><text y="-4.2"><tspan class="b">input_1</tspan><tspan x="0" dy="5.7">(1, 80, 32), 10.0 KB</tspan><tspan x="0" dy="5.7">@input.x</tspan></text></g>
</g>
</g>
</svg>
